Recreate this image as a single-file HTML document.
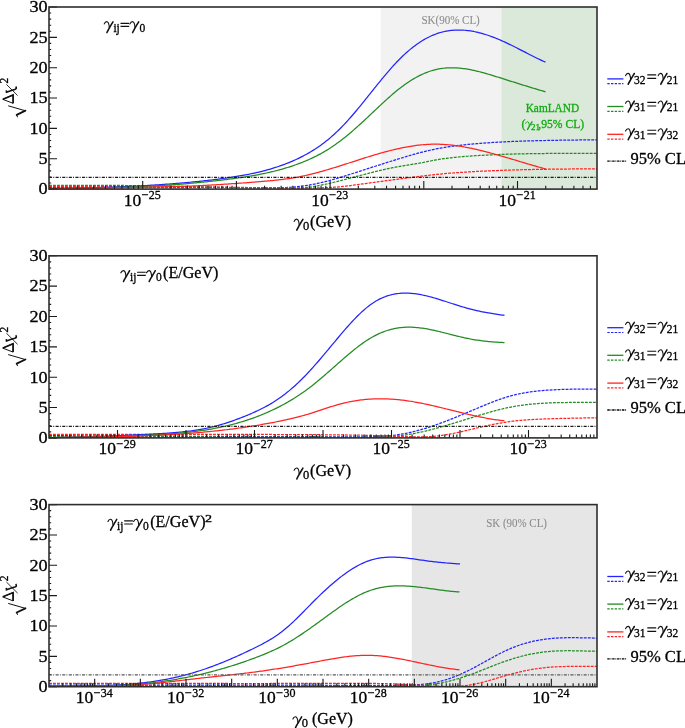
<!DOCTYPE html><html><head><meta charset="utf-8"><style>html,body{margin:0;padding:0;background:#fff;}svg{display:block;will-change:transform;}text{font-family:"Liberation Serif",serif;fill:#000;stroke:#000;stroke-width:0.3px;}.gr{fill:#8c8c8c;stroke:#8c8c8c;stroke-width:0.1px;}.gn{fill:#0fab0f;stroke:#0fab0f;}</style></head><body>
<svg width="685" height="728" viewBox="0 0 685 728">
<rect width="685" height="728" fill="#fff"/>
<rect x="380.6" y="7.0" width="121.4" height="182.1" fill="#f2f2f2"/>
<rect x="501.5" y="7.0" width="95.5" height="182.1" fill="#dbe9da"/>
<g fill="none" stroke-width="1.25">
<path d="M49.0,187.38L50.5,187.38L52.0,187.38L53.5,187.38L55.0,187.38L56.5,187.38L58.0,187.38L59.5,187.38L61.0,187.38L62.5,187.38L64.0,187.38L65.5,187.38L67.0,187.38L68.5,187.38L70.0,187.39L71.5,187.39L73.0,187.39L74.5,187.39L76.0,187.39L77.5,187.40L79.0,187.40L80.5,187.40L82.0,187.41L83.5,187.41L85.0,187.41L86.5,187.41L88.0,187.42L89.5,187.42L91.0,187.42L92.5,187.43L94.0,187.43L95.5,187.44L97.0,187.44L98.5,187.44L100.0,187.45L101.5,187.45L103.0,187.46L104.5,187.46L106.0,187.46L107.5,187.47L109.0,187.47L110.5,187.47L112.0,187.48L113.5,187.48L115.0,187.49L116.5,187.49L118.0,187.49L119.5,187.50L121.0,187.50L122.5,187.51L124.0,187.51L125.5,187.51L127.0,187.52L128.5,187.52L130.0,187.52L131.5,187.53L133.0,187.53L134.5,187.53L136.0,187.53L137.5,187.54L139.0,187.54L140.5,187.54L142.0,187.54L143.5,187.55L145.0,187.55L146.5,187.55L148.0,187.55L149.5,187.55L151.0,187.55L152.5,187.55L154.0,187.56L155.5,187.56L157.0,187.56L158.5,187.56L160.0,187.56L161.5,187.56L163.0,187.56L164.5,187.55L166.0,187.55L167.5,187.55L169.0,187.55L170.5,187.55L172.0,187.55L173.5,187.54L175.0,187.54L176.5,187.54L178.0,187.53L179.5,187.53L181.0,187.53L182.5,187.52L184.0,187.52L185.5,187.52L187.0,187.51L188.5,187.51L190.0,187.50L191.5,187.50L193.0,187.49L194.5,187.49L196.0,187.49L197.5,187.48L199.0,187.48L200.5,187.48L202.0,187.47L203.5,187.47L205.0,187.47L206.5,187.47L208.0,187.47L209.5,187.46L211.0,187.46L212.5,187.46L214.0,187.46L215.5,187.46L217.0,187.47L218.5,187.47L220.0,187.47L221.5,187.47L223.0,187.48L224.5,187.48L226.0,187.49L227.5,187.49L229.0,187.50L230.5,187.51L232.0,187.52L233.5,187.53L235.0,187.54L236.5,187.55L238.0,187.56L239.5,187.58L241.0,187.59L242.5,187.61L244.0,187.62L245.5,187.64L247.0,187.66L248.5,187.68L250.0,187.70L251.5,187.72L253.0,187.75L254.5,187.77L256.0,187.79L257.5,187.81L259.0,187.83L260.5,187.85L262.0,187.87L263.5,187.88L265.0,187.90L266.5,187.90L268.0,187.91L269.5,187.91L271.0,187.90L272.5,187.90L274.0,187.88L275.5,187.86L277.0,187.83L278.5,187.80L280.0,187.76L281.5,187.71L283.0,187.66L284.5,187.59L286.0,187.52L287.5,187.44L289.0,187.35L290.5,187.25L292.0,187.14L293.5,187.02L295.0,186.89L296.5,186.74L298.0,186.59L299.5,186.42L301.0,186.24L302.5,186.05L304.0,185.85L305.5,185.63L307.0,185.40L308.5,185.15L310.0,184.90L311.5,184.63L313.0,184.34L314.5,184.05L316.0,183.74L317.5,183.43L319.0,183.10L320.5,182.76L322.0,182.41L323.5,182.05L325.0,181.67L326.5,181.29L328.0,180.90L329.5,180.50L331.0,180.10L332.5,179.68L334.0,179.26L335.5,178.83L337.0,178.39L338.5,177.94L340.0,177.49L341.5,177.04L343.0,176.58L344.5,176.12L346.0,175.65L347.5,175.17L349.0,174.70L350.5,174.22L352.0,173.74L353.5,173.26L355.0,172.77L356.5,172.29L358.0,171.80L359.5,171.32L361.0,170.83L362.5,170.35L364.0,169.86L365.5,169.38L367.0,168.89L368.5,168.41L370.0,167.93L371.5,167.45L373.0,166.97L374.5,166.49L376.0,166.01L377.5,165.53L379.0,165.05L380.5,164.58L382.0,164.10L383.5,163.63L385.0,163.15L386.5,162.68L388.0,162.21L389.5,161.74L391.0,161.27L392.5,160.80L394.0,160.33L395.5,159.87L397.0,159.40L398.5,158.94L400.0,158.48L401.5,158.02L403.0,157.56L404.5,157.10L406.0,156.65L407.5,156.21L409.0,155.76L410.5,155.32L412.0,154.89L413.5,154.46L415.0,154.04L416.5,153.63L418.0,153.22L419.5,152.82L421.0,152.42L422.5,152.04L424.0,151.66L425.5,151.29L427.0,150.93L428.5,150.58L430.0,150.24L431.5,149.91L433.0,149.58L434.5,149.27L436.0,148.97L437.5,148.67L439.0,148.39L440.5,148.11L442.0,147.85L443.5,147.59L445.0,147.35L446.5,147.11L448.0,146.87L449.5,146.65L451.0,146.44L452.5,146.23L454.0,146.03L455.5,145.83L457.0,145.64L458.5,145.46L460.0,145.29L461.5,145.12L463.0,144.95L464.5,144.79L466.0,144.64L467.5,144.49L469.0,144.34L470.5,144.20L472.0,144.06L473.5,143.93L475.0,143.80L476.5,143.67L478.0,143.54L479.5,143.42L481.0,143.31L482.5,143.19L484.0,143.08L485.5,142.97L487.0,142.87L488.5,142.76L490.0,142.66L491.5,142.57L493.0,142.47L494.5,142.38L496.0,142.29L497.5,142.21L499.0,142.12L500.5,142.04L502.0,141.96L503.5,141.89L505.0,141.81L506.5,141.74L508.0,141.67L509.5,141.60L511.0,141.54L512.5,141.48L514.0,141.41L515.5,141.36L517.0,141.30L518.5,141.24L520.0,141.19L521.5,141.14L523.0,141.09L524.5,141.04L526.0,140.99L527.5,140.95L529.0,140.90L530.5,140.86L532.0,140.82L533.5,140.78L535.0,140.74L536.5,140.70L538.0,140.66L539.5,140.63L541.0,140.59L542.5,140.56L544.0,140.53L545.5,140.50L547.0,140.46L548.5,140.43L550.0,140.41L551.5,140.38L553.0,140.35L554.5,140.32L556.0,140.30L557.5,140.27L559.0,140.24L560.5,140.22L562.0,140.20L563.5,140.17L565.0,140.15L566.5,140.13L568.0,140.11L569.5,140.09L571.0,140.07L572.5,140.06L574.0,140.04L575.5,140.02L577.0,140.01L578.5,139.99L580.0,139.98L581.5,139.97L583.0,139.96L584.5,139.94L586.0,139.93L587.5,139.92L589.0,139.92L590.5,139.91L592.0,139.90L593.5,139.89L595.0,139.89L596.5,139.89L597.0,139.88" stroke="#2424ff" stroke-dasharray="2.9 1.1"/>
<path d="M49.0,185.38L50.5,185.37L52.0,185.37L53.5,185.36L55.0,185.35L56.5,185.35L58.0,185.34L59.5,185.34L61.0,185.33L62.5,185.33L64.0,185.33L65.5,185.32L67.0,185.32L68.5,185.32L70.0,185.31L71.5,185.31L73.0,185.31L74.5,185.31L76.0,185.31L77.5,185.31L79.0,185.31L80.5,185.31L82.0,185.31L83.5,185.31L85.0,185.31L86.5,185.31L88.0,185.31L89.5,185.31L91.0,185.31L92.5,185.32L94.0,185.32L95.5,185.32L97.0,185.33L98.5,185.33L100.0,185.34L101.5,185.34L103.0,185.35L104.5,185.36L106.0,185.36L107.5,185.37L109.0,185.38L110.5,185.39L112.0,185.40L113.5,185.41L115.0,185.42L116.5,185.43L118.0,185.44L119.5,185.45L121.0,185.46L122.5,185.47L124.0,185.49L125.5,185.50L127.0,185.51L128.5,185.53L130.0,185.54L131.5,185.56L133.0,185.57L134.5,185.59L136.0,185.61L137.5,185.63L139.0,185.64L140.5,185.66L142.0,185.68L143.5,185.70L145.0,185.72L146.5,185.75L148.0,185.77L149.5,185.79L151.0,185.81L152.5,185.84L154.0,185.86L155.5,185.89L157.0,185.91L158.5,185.94L160.0,185.97L161.5,186.00L163.0,186.02L164.5,186.05L166.0,186.08L167.5,186.11L169.0,186.15L170.5,186.18L172.0,186.21L173.5,186.24L175.0,186.28L176.5,186.31L178.0,186.35L179.5,186.39L181.0,186.42L182.5,186.46L184.0,186.50L185.5,186.53L187.0,186.57L188.5,186.61L190.0,186.65L191.5,186.69L193.0,186.73L194.5,186.77L196.0,186.81L197.5,186.85L199.0,186.89L200.5,186.92L202.0,186.96L203.5,187.00L205.0,187.04L206.5,187.08L208.0,187.12L209.5,187.16L211.0,187.19L212.5,187.23L214.0,187.27L215.5,187.30L217.0,187.34L218.5,187.37L220.0,187.41L221.5,187.44L223.0,187.48L224.5,187.51L226.0,187.54L227.5,187.57L229.0,187.60L230.5,187.63L232.0,187.65L233.5,187.68L235.0,187.70L236.5,187.73L238.0,187.75L239.5,187.77L241.0,187.79L242.5,187.81L244.0,187.83L245.5,187.84L247.0,187.86L248.5,187.87L250.0,187.88L251.5,187.89L253.0,187.90L254.5,187.91L256.0,187.91L257.5,187.92L259.0,187.92L260.5,187.93L262.0,187.93L263.5,187.93L265.0,187.94L266.5,187.94L268.0,187.94L269.5,187.94L271.0,187.95L272.5,187.95L274.0,187.95L275.5,187.96L277.0,187.96L278.5,187.97L280.0,187.98L281.5,187.98L283.0,187.99L284.5,188.00L286.0,188.02L287.5,188.03L289.0,188.04L290.5,188.06L292.0,188.06L293.5,188.06L295.0,188.05L296.5,188.03L298.0,188.00L299.5,187.96L301.0,187.89L302.5,187.81L304.0,187.71L305.5,187.58L307.0,187.43L308.5,187.26L310.0,187.07L311.5,186.86L313.0,186.63L314.5,186.38L316.0,186.13L317.5,185.85L319.0,185.57L320.5,185.27L322.0,184.96L323.5,184.65L325.0,184.33L326.5,184.00L328.0,183.66L329.5,183.32L331.0,182.97L332.5,182.62L334.0,182.26L335.5,181.90L337.0,181.53L338.5,181.15L340.0,180.78L341.5,180.40L343.0,180.01L344.5,179.63L346.0,179.24L347.5,178.84L349.0,178.45L350.5,178.05L352.0,177.66L353.5,177.26L355.0,176.86L356.5,176.46L358.0,176.06L359.5,175.67L361.0,175.27L362.5,174.87L364.0,174.48L365.5,174.09L367.0,173.70L368.5,173.31L370.0,172.92L371.5,172.54L373.0,172.16L374.5,171.79L376.0,171.42L377.5,171.05L379.0,170.69L380.5,170.33L382.0,169.98L383.5,169.64L385.0,169.30L386.5,168.97L388.0,168.65L389.5,168.33L391.0,168.02L392.5,167.72L394.0,167.42L395.5,167.14L397.0,166.86L398.5,166.60L400.0,166.34L401.5,166.09L403.0,165.85L404.5,165.61L406.0,165.37L407.5,165.13L409.0,164.90L410.5,164.66L412.0,164.42L413.5,164.17L415.0,163.92L416.5,163.66L418.0,163.39L419.5,163.11L421.0,162.83L422.5,162.53L424.0,162.24L425.5,161.94L427.0,161.64L428.5,161.34L430.0,161.05L431.5,160.76L433.0,160.47L434.5,160.20L436.0,159.93L437.5,159.67L439.0,159.43L440.5,159.19L442.0,158.96L443.5,158.74L445.0,158.53L446.5,158.33L448.0,158.14L449.5,157.96L451.0,157.78L452.5,157.61L454.0,157.45L455.5,157.29L457.0,157.14L458.5,157.00L460.0,156.86L461.5,156.73L463.0,156.60L464.5,156.48L466.0,156.36L467.5,156.25L469.0,156.14L470.5,156.03L472.0,155.93L473.5,155.83L475.0,155.73L476.5,155.63L478.0,155.54L479.5,155.45L481.0,155.36L482.5,155.28L484.0,155.20L485.5,155.12L487.0,155.04L488.5,154.97L490.0,154.89L491.5,154.82L493.0,154.76L494.5,154.69L496.0,154.63L497.5,154.57L499.0,154.51L500.5,154.45L502.0,154.39L503.5,154.34L505.0,154.29L506.5,154.24L508.0,154.19L509.5,154.15L511.0,154.11L512.5,154.06L514.0,154.02L515.5,153.98L517.0,153.95L518.5,153.91L520.0,153.88L521.5,153.85L523.0,153.82L524.5,153.79L526.0,153.76L527.5,153.73L529.0,153.71L530.5,153.68L532.0,153.66L533.5,153.64L535.0,153.62L536.5,153.60L538.0,153.58L539.5,153.56L541.0,153.55L542.5,153.53L544.0,153.52L545.5,153.50L547.0,153.49L548.5,153.48L550.0,153.47L551.5,153.46L553.0,153.45L554.5,153.44L556.0,153.43L557.5,153.42L559.0,153.41L560.5,153.40L562.0,153.40L563.5,153.39L565.0,153.38L566.5,153.38L568.0,153.37L569.5,153.37L571.0,153.36L572.5,153.36L574.0,153.35L575.5,153.35L577.0,153.34L578.5,153.34L580.0,153.33L581.5,153.33L583.0,153.32L584.5,153.32L586.0,153.31L587.5,153.30L589.0,153.30L590.5,153.29L592.0,153.28L593.5,153.28L595.0,153.27L596.5,153.26L597.0,153.26" stroke="#238b23" stroke-dasharray="2.9 1.1"/>
<path d="M49.0,186.48L50.5,186.48L52.0,186.48L53.5,186.48L55.0,186.48L56.5,186.48L58.0,186.49L59.5,186.49L61.0,186.49L62.5,186.50L64.0,186.50L65.5,186.50L67.0,186.51L68.5,186.51L70.0,186.52L71.5,186.52L73.0,186.53L74.5,186.53L76.0,186.54L77.5,186.54L79.0,186.55L80.5,186.56L82.0,186.56L83.5,186.57L85.0,186.58L86.5,186.59L88.0,186.59L89.5,186.60L91.0,186.61L92.5,186.62L94.0,186.63L95.5,186.63L97.0,186.64L98.5,186.65L100.0,186.66L101.5,186.67L103.0,186.68L104.5,186.69L106.0,186.69L107.5,186.70L109.0,186.71L110.5,186.72L112.0,186.73L113.5,186.74L115.0,186.75L116.5,186.76L118.0,186.77L119.5,186.78L121.0,186.79L122.5,186.80L124.0,186.81L125.5,186.82L127.0,186.83L128.5,186.84L130.0,186.85L131.5,186.86L133.0,186.87L134.5,186.88L136.0,186.89L137.5,186.89L139.0,186.90L140.5,186.91L142.0,186.92L143.5,186.93L145.0,186.94L146.5,186.95L148.0,186.96L149.5,186.97L151.0,186.98L152.5,186.98L154.0,186.99L155.5,187.00L157.0,187.01L158.5,187.02L160.0,187.02L161.5,187.03L163.0,187.04L164.5,187.05L166.0,187.05L167.5,187.06L169.0,187.07L170.5,187.07L172.0,187.08L173.5,187.08L175.0,187.09L176.5,187.09L178.0,187.10L179.5,187.10L181.0,187.11L182.5,187.11L184.0,187.12L185.5,187.12L187.0,187.13L188.5,187.13L190.0,187.14L191.5,187.14L193.0,187.14L194.5,187.15L196.0,187.15L197.5,187.16L199.0,187.16L200.5,187.17L202.0,187.17L203.5,187.18L205.0,187.18L206.5,187.19L208.0,187.20L209.5,187.20L211.0,187.21L212.5,187.22L214.0,187.22L215.5,187.23L217.0,187.24L218.5,187.25L220.0,187.25L221.5,187.26L223.0,187.27L224.5,187.28L226.0,187.29L227.5,187.31L229.0,187.32L230.5,187.33L232.0,187.34L233.5,187.36L235.0,187.37L236.5,187.39L238.0,187.40L239.5,187.42L241.0,187.44L242.5,187.45L244.0,187.47L245.5,187.49L247.0,187.51L248.5,187.53L250.0,187.56L251.5,187.58L253.0,187.60L254.5,187.63L256.0,187.65L257.5,187.68L259.0,187.70L260.5,187.73L262.0,187.75L263.5,187.78L265.0,187.81L266.5,187.83L268.0,187.86L269.5,187.88L271.0,187.91L272.5,187.93L274.0,187.95L275.5,187.98L277.0,188.00L278.5,188.02L280.0,188.04L281.5,188.06L283.0,188.07L284.5,188.09L286.0,188.11L287.5,188.12L289.0,188.13L290.5,188.14L292.0,188.15L293.5,188.15L295.0,188.16L296.5,188.16L298.0,188.16L299.5,188.16L301.0,188.15L302.5,188.15L304.0,188.14L305.5,188.12L307.0,188.11L308.5,188.09L310.0,188.07L311.5,188.04L313.0,188.02L314.5,187.99L316.0,187.95L317.5,187.92L319.0,187.87L320.5,187.83L322.0,187.78L323.5,187.73L325.0,187.67L326.5,187.61L328.0,187.55L329.5,187.47L331.0,187.40L332.5,187.31L334.0,187.22L335.5,187.12L337.0,187.01L338.5,186.89L340.0,186.76L341.5,186.62L343.0,186.47L344.5,186.31L346.0,186.14L347.5,185.96L349.0,185.77L350.5,185.58L352.0,185.38L353.5,185.18L355.0,184.97L356.5,184.76L358.0,184.55L359.5,184.34L361.0,184.13L362.5,183.92L364.0,183.72L365.5,183.51L367.0,183.31L368.5,183.10L370.0,182.90L371.5,182.70L373.0,182.50L374.5,182.29L376.0,182.10L377.5,181.90L379.0,181.70L380.5,181.50L382.0,181.30L383.5,181.10L385.0,180.91L386.5,180.71L388.0,180.51L389.5,180.31L391.0,180.12L392.5,179.92L394.0,179.72L395.5,179.52L397.0,179.33L398.5,179.13L400.0,178.93L401.5,178.73L403.0,178.53L404.5,178.33L406.0,178.13L407.5,177.93L409.0,177.73L410.5,177.54L412.0,177.34L413.5,177.14L415.0,176.95L416.5,176.76L418.0,176.57L419.5,176.38L421.0,176.19L422.5,176.01L424.0,175.82L425.5,175.64L427.0,175.47L428.5,175.29L430.0,175.12L431.5,174.96L433.0,174.79L434.5,174.63L436.0,174.48L437.5,174.33L439.0,174.18L440.5,174.03L442.0,173.89L443.5,173.76L445.0,173.62L446.5,173.49L448.0,173.37L449.5,173.24L451.0,173.12L452.5,173.00L454.0,172.89L455.5,172.78L457.0,172.67L458.5,172.56L460.0,172.46L461.5,172.36L463.0,172.26L464.5,172.17L466.0,172.07L467.5,171.98L469.0,171.89L470.5,171.80L472.0,171.72L473.5,171.63L475.0,171.55L476.5,171.47L478.0,171.39L479.5,171.31L481.0,171.24L482.5,171.17L484.0,171.09L485.5,171.02L487.0,170.95L488.5,170.89L490.0,170.82L491.5,170.76L493.0,170.69L494.5,170.63L496.0,170.57L497.5,170.51L499.0,170.46L500.5,170.40L502.0,170.35L503.5,170.29L505.0,170.24L506.5,170.19L508.0,170.14L509.5,170.09L511.0,170.05L512.5,170.00L514.0,169.96L515.5,169.91L517.0,169.87L518.5,169.83L520.0,169.79L521.5,169.75L523.0,169.72L524.5,169.68L526.0,169.65L527.5,169.61L529.0,169.58L530.5,169.55L532.0,169.52L533.5,169.49L535.0,169.46L536.5,169.43L538.0,169.40L539.5,169.37L541.0,169.35L542.5,169.32L544.0,169.30L545.5,169.28L547.0,169.25L548.5,169.23L550.0,169.21L551.5,169.19L553.0,169.17L554.5,169.15L556.0,169.13L557.5,169.12L559.0,169.10L560.5,169.08L562.0,169.07L563.5,169.05L565.0,169.04L566.5,169.02L568.0,169.01L569.5,169.00L571.0,168.98L572.5,168.97L574.0,168.96L575.5,168.95L577.0,168.94L578.5,168.92L580.0,168.91L581.5,168.90L583.0,168.89L584.5,168.88L586.0,168.87L587.5,168.87L589.0,168.86L590.5,168.85L592.0,168.84L593.5,168.83L595.0,168.82L596.5,168.81L597.0,168.81" stroke="#ff2424" stroke-dasharray="2.9 1.1"/>
<path d="M49.0,188.40L50.5,188.39L52.0,188.38L53.5,188.38L55.0,188.36L56.5,188.35L58.0,188.34L59.5,188.33L61.0,188.31L62.5,188.29L64.0,188.28L65.5,188.26L67.0,188.24L68.5,188.22L70.0,188.20L71.5,188.18L73.0,188.15L74.5,188.13L76.0,188.10L77.5,188.08L79.0,188.05L80.5,188.02L82.0,187.99L83.5,187.96L85.0,187.92L86.5,187.89L88.0,187.86L89.5,187.82L91.0,187.78L92.5,187.74L94.0,187.70L95.5,187.66L97.0,187.62L98.5,187.58L100.0,187.53L101.5,187.49L103.0,187.44L104.5,187.39L106.0,187.34L107.5,187.29L109.0,187.24L110.5,187.19L112.0,187.13L113.5,187.08L115.0,187.02L116.5,186.96L118.0,186.90L119.5,186.84L121.0,186.78L122.5,186.71L124.0,186.65L125.5,186.58L127.0,186.51L128.5,186.44L130.0,186.37L131.5,186.30L133.0,186.23L134.5,186.15L136.0,186.07L137.5,186.00L139.0,185.92L140.5,185.83L142.0,185.75L143.5,185.67L145.0,185.58L146.5,185.50L148.0,185.41L149.5,185.32L151.0,185.23L152.5,185.13L154.0,185.04L155.5,184.94L157.0,184.85L158.5,184.75L160.0,184.65L161.5,184.55L163.0,184.44L164.5,184.34L166.0,184.23L167.5,184.12L169.0,184.01L170.5,183.90L172.0,183.78L173.5,183.67L175.0,183.55L176.5,183.43L178.0,183.31L179.5,183.18L181.0,183.06L182.5,182.93L184.0,182.80L185.5,182.66L187.0,182.53L188.5,182.39L190.0,182.25L191.5,182.11L193.0,181.96L194.5,181.82L196.0,181.67L197.5,181.51L199.0,181.36L200.5,181.20L202.0,181.04L203.5,180.87L205.0,180.71L206.5,180.54L208.0,180.36L209.5,180.19L211.0,180.01L212.5,179.83L214.0,179.64L215.5,179.45L217.0,179.26L218.5,179.07L220.0,178.87L221.5,178.66L223.0,178.46L224.5,178.25L226.0,178.04L227.5,177.82L229.0,177.60L230.5,177.38L232.0,177.15L233.5,176.92L235.0,176.68L236.5,176.44L238.0,176.20L239.5,175.95L241.0,175.69L242.5,175.43L244.0,175.16L245.5,174.88L247.0,174.60L248.5,174.31L250.0,174.01L251.5,173.70L253.0,173.39L254.5,173.06L256.0,172.73L257.5,172.39L259.0,172.04L260.5,171.68L262.0,171.31L263.5,170.93L265.0,170.54L266.5,170.13L268.0,169.72L269.5,169.29L271.0,168.86L272.5,168.41L274.0,167.94L275.5,167.47L277.0,166.98L278.5,166.48L280.0,165.96L281.5,165.43L283.0,164.89L284.5,164.33L286.0,163.75L287.5,163.16L289.0,162.56L290.5,161.93L292.0,161.30L293.5,160.64L295.0,159.97L296.5,159.28L298.0,158.58L299.5,157.85L301.0,157.11L302.5,156.35L304.0,155.56L305.5,154.76L307.0,153.93L308.5,153.09L310.0,152.21L311.5,151.32L313.0,150.40L314.5,149.45L316.0,148.48L317.5,147.48L319.0,146.45L320.5,145.39L322.0,144.31L323.5,143.19L325.0,142.04L326.5,140.86L328.0,139.65L329.5,138.41L331.0,137.13L332.5,135.81L334.0,134.46L335.5,133.08L337.0,131.66L338.5,130.21L340.0,128.73L341.5,127.21L343.0,125.66L344.5,124.09L346.0,122.48L347.5,120.85L349.0,119.18L350.5,117.49L352.0,115.77L353.5,114.03L355.0,112.27L356.5,110.48L358.0,108.68L359.5,106.86L361.0,105.03L362.5,103.18L364.0,101.33L365.5,99.47L367.0,97.59L368.5,95.72L370.0,93.84L371.5,91.96L373.0,90.09L374.5,88.21L376.0,86.34L377.5,84.48L379.0,82.63L380.5,80.78L382.0,78.96L383.5,77.14L385.0,75.34L386.5,73.56L388.0,71.81L389.5,70.07L391.0,68.36L392.5,66.68L394.0,65.02L395.5,63.39L397.0,61.80L398.5,60.24L400.0,58.72L401.5,57.24L403.0,55.79L404.5,54.38L406.0,53.02L407.5,51.69L409.0,50.40L410.5,49.14L412.0,47.93L413.5,46.76L415.0,45.63L416.5,44.53L418.0,43.48L419.5,42.46L421.0,41.49L422.5,40.56L424.0,39.66L425.5,38.81L427.0,38.00L428.5,37.23L430.0,36.49L431.5,35.80L433.0,35.16L434.5,34.55L436.0,33.98L437.5,33.46L439.0,32.97L440.5,32.52L442.0,32.12L443.5,31.75L445.0,31.41L446.5,31.12L448.0,30.86L449.5,30.64L451.0,30.45L452.5,30.30L454.0,30.18L455.5,30.09L457.0,30.04L458.5,30.02L460.0,30.03L461.5,30.07L463.0,30.15L464.5,30.25L466.0,30.38L467.5,30.54L469.0,30.73L470.5,30.95L472.0,31.19L473.5,31.46L475.0,31.76L476.5,32.08L478.0,32.43L479.5,32.80L481.0,33.19L482.5,33.61L484.0,34.04L485.5,34.50L487.0,34.98L488.5,35.49L490.0,36.01L491.5,36.55L493.0,37.11L494.5,37.69L496.0,38.28L497.5,38.89L499.0,39.52L500.5,40.16L502.0,40.82L503.5,41.50L505.0,42.18L506.5,42.88L508.0,43.60L509.5,44.32L511.0,45.05L512.5,45.79L514.0,46.54L515.5,47.29L517.0,48.05L518.5,48.82L520.0,49.59L521.5,50.36L523.0,51.13L524.5,51.90L526.0,52.67L527.5,53.44L529.0,54.21L530.5,54.97L532.0,55.73L533.5,56.48L535.0,57.23L536.5,57.96L538.0,58.69L539.5,59.41L541.0,60.12L542.5,60.82L544.0,61.50L545.5,62.17" stroke="#2424ff"/>
<path d="M49.0,188.54L50.5,188.52L52.0,188.50L53.5,188.48L55.0,188.46L56.5,188.45L58.0,188.43L59.5,188.41L61.0,188.39L62.5,188.37L64.0,188.35L65.5,188.34L67.0,188.32L68.5,188.30L70.0,188.28L71.5,188.26L73.0,188.24L74.5,188.22L76.0,188.20L77.5,188.18L79.0,188.16L80.5,188.14L82.0,188.12L83.5,188.10L85.0,188.07L86.5,188.05L88.0,188.03L89.5,188.00L91.0,187.98L92.5,187.95L94.0,187.93L95.5,187.90L97.0,187.87L98.5,187.84L100.0,187.81L101.5,187.78L103.0,187.75L104.5,187.72L106.0,187.69L107.5,187.65L109.0,187.62L110.5,187.58L112.0,187.54L113.5,187.51L115.0,187.47L116.5,187.42L118.0,187.38L119.5,187.34L121.0,187.30L122.5,187.25L124.0,187.20L125.5,187.15L127.0,187.11L128.5,187.05L130.0,187.00L131.5,186.95L133.0,186.89L134.5,186.83L136.0,186.78L137.5,186.72L139.0,186.65L140.5,186.59L142.0,186.53L143.5,186.46L145.0,186.39L146.5,186.32L148.0,186.25L149.5,186.17L151.0,186.10L152.5,186.02L154.0,185.94L155.5,185.86L157.0,185.77L158.5,185.69L160.0,185.60L161.5,185.51L163.0,185.42L164.5,185.32L166.0,185.22L167.5,185.13L169.0,185.03L170.5,184.92L172.0,184.82L173.5,184.71L175.0,184.60L176.5,184.49L178.0,184.37L179.5,184.26L181.0,184.14L182.5,184.02L184.0,183.90L185.5,183.77L187.0,183.65L188.5,183.52L190.0,183.38L191.5,183.25L193.0,183.11L194.5,182.98L196.0,182.84L197.5,182.69L199.0,182.55L200.5,182.40L202.0,182.25L203.5,182.10L205.0,181.94L206.5,181.79L208.0,181.63L209.5,181.47L211.0,181.30L212.5,181.14L214.0,180.97L215.5,180.80L217.0,180.63L218.5,180.45L220.0,180.28L221.5,180.10L223.0,179.91L224.5,179.73L226.0,179.54L227.5,179.35L229.0,179.16L230.5,178.97L232.0,178.77L233.5,178.57L235.0,178.37L236.5,178.16L238.0,177.95L239.5,177.74L241.0,177.52L242.5,177.30L244.0,177.07L245.5,176.84L247.0,176.61L248.5,176.37L250.0,176.12L251.5,175.87L253.0,175.61L254.5,175.35L256.0,175.08L257.5,174.80L259.0,174.52L260.5,174.23L262.0,173.93L263.5,173.62L265.0,173.31L266.5,172.99L268.0,172.66L269.5,172.32L271.0,171.97L272.5,171.62L274.0,171.25L275.5,170.88L277.0,170.49L278.5,170.10L280.0,169.69L281.5,169.28L283.0,168.85L284.5,168.41L286.0,167.97L287.5,167.51L289.0,167.04L290.5,166.55L292.0,166.06L293.5,165.55L295.0,165.03L296.5,164.50L298.0,163.95L299.5,163.39L301.0,162.82L302.5,162.23L304.0,161.63L305.5,161.01L307.0,160.37L308.5,159.72L310.0,159.05L311.5,158.36L313.0,157.66L314.5,156.93L316.0,156.19L317.5,155.42L319.0,154.63L320.5,153.83L322.0,153.00L323.5,152.14L325.0,151.27L326.5,150.37L328.0,149.44L329.5,148.49L331.0,147.52L332.5,146.52L334.0,145.49L335.5,144.44L337.0,143.36L338.5,142.26L340.0,141.14L341.5,139.99L343.0,138.82L344.5,137.64L346.0,136.43L347.5,135.20L349.0,133.96L350.5,132.70L352.0,131.42L353.5,130.12L355.0,128.81L356.5,127.49L358.0,126.15L359.5,124.80L361.0,123.44L362.5,122.07L364.0,120.68L365.5,119.29L367.0,117.89L368.5,116.48L370.0,115.07L371.5,113.65L373.0,112.23L374.5,110.81L376.0,109.39L377.5,107.97L379.0,106.56L380.5,105.16L382.0,103.76L383.5,102.37L385.0,100.99L386.5,99.62L388.0,98.27L389.5,96.93L391.0,95.62L392.5,94.32L394.0,93.04L395.5,91.78L397.0,90.55L398.5,89.34L400.0,88.16L401.5,87.01L403.0,85.89L404.5,84.80L406.0,83.74L407.5,82.71L409.0,81.71L410.5,80.75L412.0,79.81L413.5,78.91L415.0,78.04L416.5,77.20L418.0,76.40L419.5,75.63L421.0,74.90L422.5,74.20L424.0,73.53L425.5,72.90L427.0,72.31L428.5,71.76L430.0,71.24L431.5,70.76L433.0,70.31L434.5,69.91L436.0,69.54L437.5,69.21L439.0,68.92L440.5,68.66L442.0,68.44L443.5,68.25L445.0,68.10L446.5,67.98L448.0,67.89L449.5,67.83L451.0,67.80L452.5,67.80L454.0,67.82L455.5,67.88L457.0,67.96L458.5,68.06L460.0,68.19L461.5,68.35L463.0,68.53L464.5,68.73L466.0,68.95L467.5,69.19L469.0,69.45L470.5,69.73L472.0,70.03L473.5,70.34L475.0,70.67L476.5,71.02L478.0,71.38L479.5,71.75L481.0,72.14L482.5,72.54L484.0,72.95L485.5,73.37L487.0,73.80L488.5,74.24L490.0,74.68L491.5,75.14L493.0,75.60L494.5,76.06L496.0,76.53L497.5,77.00L499.0,77.47L500.5,77.95L502.0,78.43L503.5,78.90L505.0,79.38L506.5,79.85L508.0,80.33L509.5,80.80L511.0,81.28L512.5,81.75L514.0,82.22L515.5,82.70L517.0,83.17L518.5,83.64L520.0,84.10L521.5,84.57L523.0,85.04L524.5,85.50L526.0,85.96L527.5,86.42L529.0,86.88L530.5,87.34L532.0,87.79L533.5,88.24L535.0,88.70L536.5,89.14L538.0,89.59L539.5,90.03L541.0,90.48L542.5,90.91L544.0,91.35L545.5,91.78" stroke="#238b23"/>
<path d="M49.0,188.75L50.5,188.75L52.0,188.74L53.5,188.74L55.0,188.74L56.5,188.73L58.0,188.73L59.5,188.72L61.0,188.71L62.5,188.70L64.0,188.69L65.5,188.68L67.0,188.67L68.5,188.66L70.0,188.64L71.5,188.63L73.0,188.61L74.5,188.60L76.0,188.58L77.5,188.56L79.0,188.54L80.5,188.53L82.0,188.51L83.5,188.49L85.0,188.46L86.5,188.44L88.0,188.42L89.5,188.40L91.0,188.37L92.5,188.35L94.0,188.32L95.5,188.30L97.0,188.27L98.5,188.25L100.0,188.22L101.5,188.19L103.0,188.16L104.5,188.13L106.0,188.10L107.5,188.08L109.0,188.04L110.5,188.01L112.0,187.98L113.5,187.95L115.0,187.92L116.5,187.89L118.0,187.86L119.5,187.82L121.0,187.79L122.5,187.76L124.0,187.72L125.5,187.69L127.0,187.66L128.5,187.62L130.0,187.59L131.5,187.55L133.0,187.52L134.5,187.48L136.0,187.45L137.5,187.41L139.0,187.38L140.5,187.34L142.0,187.31L143.5,187.27L145.0,187.24L146.5,187.20L148.0,187.17L149.5,187.13L151.0,187.09L152.5,187.06L154.0,187.02L155.5,186.99L157.0,186.95L158.5,186.92L160.0,186.88L161.5,186.85L163.0,186.81L164.5,186.78L166.0,186.74L167.5,186.71L169.0,186.67L170.5,186.64L172.0,186.60L173.5,186.56L175.0,186.53L176.5,186.49L178.0,186.45L179.5,186.40L181.0,186.36L182.5,186.32L184.0,186.27L185.5,186.22L187.0,186.17L188.5,186.12L190.0,186.07L191.5,186.01L193.0,185.95L194.5,185.89L196.0,185.83L197.5,185.76L199.0,185.70L200.5,185.63L202.0,185.55L203.5,185.48L205.0,185.40L206.5,185.32L208.0,185.24L209.5,185.15L211.0,185.07L212.5,184.98L214.0,184.89L215.5,184.80L217.0,184.71L218.5,184.62L220.0,184.52L221.5,184.43L223.0,184.33L224.5,184.23L226.0,184.14L227.5,184.04L229.0,183.94L230.5,183.84L232.0,183.73L233.5,183.63L235.0,183.53L236.5,183.43L238.0,183.32L239.5,183.22L241.0,183.11L242.5,183.00L244.0,182.90L245.5,182.79L247.0,182.68L248.5,182.56L250.0,182.45L251.5,182.34L253.0,182.22L254.5,182.10L256.0,181.98L257.5,181.86L259.0,181.74L260.5,181.62L262.0,181.49L263.5,181.36L265.0,181.23L266.5,181.10L268.0,180.97L269.5,180.83L271.0,180.69L272.5,180.54L274.0,180.39L275.5,180.24L277.0,180.08L278.5,179.91L280.0,179.74L281.5,179.56L283.0,179.37L284.5,179.18L286.0,178.98L287.5,178.77L289.0,178.56L290.5,178.33L292.0,178.09L293.5,177.85L295.0,177.59L296.5,177.33L298.0,177.05L299.5,176.76L301.0,176.46L302.5,176.15L304.0,175.83L305.5,175.50L307.0,175.16L308.5,174.81L310.0,174.45L311.5,174.09L313.0,173.71L314.5,173.33L316.0,172.94L317.5,172.54L319.0,172.13L320.5,171.72L322.0,171.30L323.5,170.87L325.0,170.44L326.5,170.01L328.0,169.56L329.5,169.12L331.0,168.66L332.5,168.21L334.0,167.75L335.5,167.28L337.0,166.82L338.5,166.35L340.0,165.87L341.5,165.40L343.0,164.92L344.5,164.44L346.0,163.96L347.5,163.48L349.0,162.99L350.5,162.51L352.0,162.03L353.5,161.54L355.0,161.06L356.5,160.57L358.0,160.09L359.5,159.61L361.0,159.13L362.5,158.66L364.0,158.18L365.5,157.71L367.0,157.24L368.5,156.77L370.0,156.31L371.5,155.85L373.0,155.40L374.5,154.95L376.0,154.50L377.5,154.06L379.0,153.62L380.5,153.19L382.0,152.77L383.5,152.35L385.0,151.94L386.5,151.54L388.0,151.14L389.5,150.75L391.0,150.37L392.5,150.00L394.0,149.64L395.5,149.28L397.0,148.93L398.5,148.60L400.0,148.27L401.5,147.95L403.0,147.65L404.5,147.35L406.0,147.07L407.5,146.79L409.0,146.53L410.5,146.28L412.0,146.04L413.5,145.82L415.0,145.61L416.5,145.41L418.0,145.22L419.5,145.05L421.0,144.89L422.5,144.75L424.0,144.62L425.5,144.51L427.0,144.41L428.5,144.33L430.0,144.26L431.5,144.21L433.0,144.18L434.5,144.16L436.0,144.17L437.5,144.18L439.0,144.22L440.5,144.27L442.0,144.33L443.5,144.42L445.0,144.51L446.5,144.62L448.0,144.75L449.5,144.89L451.0,145.05L452.5,145.21L454.0,145.39L455.5,145.59L457.0,145.79L458.5,146.01L460.0,146.24L461.5,146.49L463.0,146.74L464.5,147.00L466.0,147.28L467.5,147.56L469.0,147.86L470.5,148.16L472.0,148.48L473.5,148.80L475.0,149.13L476.5,149.47L478.0,149.82L479.5,150.18L481.0,150.54L482.5,150.91L484.0,151.29L485.5,151.67L487.0,152.06L488.5,152.46L490.0,152.86L491.5,153.27L493.0,153.68L494.5,154.09L496.0,154.51L497.5,154.94L499.0,155.37L500.5,155.80L502.0,156.23L503.5,156.67L505.0,157.10L506.5,157.55L508.0,157.99L509.5,158.43L511.0,158.88L512.5,159.32L514.0,159.77L515.5,160.22L517.0,160.66L518.5,161.11L520.0,161.56L521.5,162.01L523.0,162.45L524.5,162.90L526.0,163.34L527.5,163.79L529.0,164.23L530.5,164.66L532.0,165.10L533.5,165.54L535.0,165.97L536.5,166.39L538.0,166.82L539.5,167.24L541.0,167.66L542.5,168.07L544.0,168.48L545.5,168.89L546.0,169.02" stroke="#ff2424"/>
</g>
<path d="M49.0,189.10h8.0 M49.0,183.03h2.2 M49.0,176.96h2.2 M49.0,170.89h2.2 M49.0,164.82h2.2 M49.0,158.75h8.0 M49.0,152.68h2.2 M49.0,146.61h2.2 M49.0,140.54h2.2 M49.0,134.47h2.2 M49.0,128.40h8.0 M49.0,122.33h2.2 M49.0,116.26h2.2 M49.0,110.19h2.2 M49.0,104.12h2.2 M49.0,98.05h8.0 M49.0,91.98h2.2 M49.0,85.91h2.2 M49.0,79.84h2.2 M49.0,73.77h2.2 M49.0,67.70h8.0 M49.0,61.63h2.2 M49.0,55.56h2.2 M49.0,49.49h2.2 M49.0,43.42h2.2 M49.0,37.35h8.0 M49.0,31.28h2.2 M49.0,25.21h2.2 M49.0,19.14h2.2 M49.0,13.07h2.2 M49.0,7.00h8.0 M77.21,189.1v-3.4 M93.71,189.1v-3.4 M105.41,189.1v-3.4 M114.49,189.1v-3.4 M121.91,189.1v-3.4 M128.19,189.1v-3.4 M133.62,189.1v-3.4 M138.41,189.1v-3.4 M142.70,189.1v-8.0 M170.91,189.1v-3.4 M187.41,189.1v-3.4 M199.11,189.1v-3.4 M208.19,189.1v-3.4 M215.61,189.1v-3.4 M221.89,189.1v-3.4 M227.32,189.1v-3.4 M232.11,189.1v-3.4 M236.40,189.1v-8.0 M264.61,189.1v-3.4 M281.11,189.1v-3.4 M292.81,189.1v-3.4 M301.89,189.1v-3.4 M309.31,189.1v-3.4 M315.59,189.1v-3.4 M321.02,189.1v-3.4 M325.81,189.1v-3.4 M330.10,189.1v-8.0 M358.31,189.1v-3.4 M374.81,189.1v-3.4 M386.51,189.1v-3.4 M395.59,189.1v-3.4 M403.01,189.1v-3.4 M409.29,189.1v-3.4 M414.72,189.1v-3.4 M419.51,189.1v-3.4 M423.80,189.1v-8.0 M452.01,189.1v-3.4 M468.51,189.1v-3.4 M480.21,189.1v-3.4 M489.29,189.1v-3.4 M496.71,189.1v-3.4 M502.99,189.1v-3.4 M508.42,189.1v-3.4 M513.21,189.1v-3.4 M517.50,189.1v-8.0 M545.71,189.1v-3.4 M562.21,189.1v-3.4 M573.91,189.1v-3.4 M582.99,189.1v-3.4 M590.41,189.1v-3.4" stroke="#1a1a1a" stroke-width="1.1" fill="none"/>
<path d="M49.0,177.3H597.0" stroke="#1a1a1a" stroke-width="1.2" stroke-dasharray="3.1 1.2 0.9 1.4"/>
<rect x="49.0" y="7.00" width="548.0" height="182.10" fill="none" stroke="#2e2e2e" stroke-width="1.6"/>
<text x="47.6" y="194.4" font-size="17.5" text-anchor="end" textLength="9.1" lengthAdjust="spacingAndGlyphs">0</text>
<text x="47.6" y="164.1" font-size="17.5" text-anchor="end" textLength="9.1" lengthAdjust="spacingAndGlyphs">5</text>
<text x="47.6" y="133.7" font-size="17.5" text-anchor="end" textLength="18.2" lengthAdjust="spacingAndGlyphs">10</text>
<text x="47.6" y="103.3" font-size="17.5" text-anchor="end" textLength="18.2" lengthAdjust="spacingAndGlyphs">15</text>
<text x="47.6" y="73.0" font-size="17.5" text-anchor="end" textLength="18.2" lengthAdjust="spacingAndGlyphs">20</text>
<text x="47.6" y="42.7" font-size="17.5" text-anchor="end" textLength="18.2" lengthAdjust="spacingAndGlyphs">25</text>
<text x="47.6" y="12.3" font-size="17.5" text-anchor="end" textLength="18.2" lengthAdjust="spacingAndGlyphs">30</text>
<text x="142.3" y="205.5" font-size="17.5" text-anchor="middle">10<tspan font-size="12.5" dy="-6.1">−</tspan><tspan font-size="12" dx="0.5">25</tspan></text>
<text x="329.7" y="205.5" font-size="17.5" text-anchor="middle">10<tspan font-size="12.5" dy="-6.1">−</tspan><tspan font-size="12" dx="0.5">23</tspan></text>
<text x="517.1" y="205.5" font-size="17.5" text-anchor="middle">10<tspan font-size="12.5" dy="-6.1">−</tspan><tspan font-size="12" dx="0.5">21</tspan></text>
<g transform="translate(293.90,226.80) scale(1.000)" fill="none" stroke="#111" stroke-linecap="round"><path d="M0.25,-5.4 C0.9,-7.0 2.0,-7.7 3.0,-7.6 C4.5,-7.4 5.1,-5.4 5.3,-1.9" stroke-width="1.15"/><path d="M9.0,-7.5 C7.4,-4.8 5.6,-1.8 4.6,0.0 C3.8,1.4 3.2,2.5 2.9,3.3" stroke-width="1.55"/></g>
<text x="303.1" y="229.7" font-size="12.5">0</text>
<text x="310.1" y="226.8" font-size="16" textLength="40.9" lengthAdjust="spacingAndGlyphs">(GeV)</text>
<path d="M8.2,105.8 L24.8,110.6" stroke="#111" stroke-width="1.0" fill="none"/><path d="M25.4,110.7 L16.7,114.9" stroke="#111" stroke-width="1.9" fill="none" stroke-linecap="round"/><path d="M16.7,114.9 L17.6,117.3" stroke="#111" stroke-width="1.0" fill="none"/><path d="M13.1,94.9 L2.7,99.3 L13.1,103.3 Z" stroke="#111" stroke-width="1.0" fill="none" stroke-linejoin="miter"/><path d="M2.9,99.2 L13.1,95.0 L13.1,103.3" stroke="#111" stroke-width="1.6" fill="none"/><path d="M6.4,84.4 L17.6,95.5" stroke="#111" stroke-width="0.9" fill="none"/><path d="M6.3,90.3 L6.5,92.2 C9.2,91.2 12.2,90.1 14.8,89.4 C16.4,88.9 16.9,88.0 15.7,86.4" stroke="#111" stroke-width="1.6" fill="none"/><g transform="translate(13.3,117.0) rotate(-90)"><text x="33.4" y="-5.3" font-size="11.5">2</text></g>
<path d="M607.3,78.9H623.4" stroke="#2424ff" stroke-width="1.3"/>
<path d="M607.3,83.7H623.4" stroke="#2424ff" stroke-width="1.2" stroke-dasharray="2.4 1.3"/>
<g transform="translate(625.30,81.00) scale(1.000)" fill="none" stroke="#111" stroke-linecap="round"><path d="M0.25,-5.4 C0.9,-7.0 2.0,-7.7 3.0,-7.6 C4.5,-7.4 5.1,-5.4 5.3,-1.9" stroke-width="1.15"/><path d="M9.0,-7.5 C7.4,-4.8 5.6,-1.8 4.6,0.0 C3.8,1.4 3.2,2.5 2.9,3.3" stroke-width="1.55"/></g>
<text x="634.1" y="83.8" font-size="11.5">32</text>
<path d="M647.3,74.80H656.2M647.3,78.40H656.2" stroke="#111" stroke-width="1.15"/>
<g transform="translate(657.90,81.00) scale(1.000)" fill="none" stroke="#111" stroke-linecap="round"><path d="M0.25,-5.4 C0.9,-7.0 2.0,-7.7 3.0,-7.6 C4.5,-7.4 5.1,-5.4 5.3,-1.9" stroke-width="1.15"/><path d="M9.0,-7.5 C7.4,-4.8 5.6,-1.8 4.6,0.0 C3.8,1.4 3.2,2.5 2.9,3.3" stroke-width="1.55"/></g>
<text x="666.8" y="83.8" font-size="11.5">21</text>
<path d="M607.3,106.5H623.4" stroke="#238b23" stroke-width="1.3"/>
<path d="M607.3,111.3H623.4" stroke="#238b23" stroke-width="1.2" stroke-dasharray="2.4 1.3"/>
<g transform="translate(625.30,108.60) scale(1.000)" fill="none" stroke="#111" stroke-linecap="round"><path d="M0.25,-5.4 C0.9,-7.0 2.0,-7.7 3.0,-7.6 C4.5,-7.4 5.1,-5.4 5.3,-1.9" stroke-width="1.15"/><path d="M9.0,-7.5 C7.4,-4.8 5.6,-1.8 4.6,0.0 C3.8,1.4 3.2,2.5 2.9,3.3" stroke-width="1.55"/></g>
<text x="634.1" y="111.4" font-size="11.5">31</text>
<path d="M647.3,102.40H656.2M647.3,106.00H656.2" stroke="#111" stroke-width="1.15"/>
<g transform="translate(657.90,108.60) scale(1.000)" fill="none" stroke="#111" stroke-linecap="round"><path d="M0.25,-5.4 C0.9,-7.0 2.0,-7.7 3.0,-7.6 C4.5,-7.4 5.1,-5.4 5.3,-1.9" stroke-width="1.15"/><path d="M9.0,-7.5 C7.4,-4.8 5.6,-1.8 4.6,0.0 C3.8,1.4 3.2,2.5 2.9,3.3" stroke-width="1.55"/></g>
<text x="666.8" y="111.4" font-size="11.5">21</text>
<path d="M607.3,134.3H623.4" stroke="#ff2424" stroke-width="1.3"/>
<path d="M607.3,139.1H623.4" stroke="#ff2424" stroke-width="1.2" stroke-dasharray="2.4 1.3"/>
<g transform="translate(625.30,136.40) scale(1.000)" fill="none" stroke="#111" stroke-linecap="round"><path d="M0.25,-5.4 C0.9,-7.0 2.0,-7.7 3.0,-7.6 C4.5,-7.4 5.1,-5.4 5.3,-1.9" stroke-width="1.15"/><path d="M9.0,-7.5 C7.4,-4.8 5.6,-1.8 4.6,0.0 C3.8,1.4 3.2,2.5 2.9,3.3" stroke-width="1.55"/></g>
<text x="634.1" y="139.2" font-size="11.5">31</text>
<path d="M647.3,130.20H656.2M647.3,133.80H656.2" stroke="#111" stroke-width="1.15"/>
<g transform="translate(657.90,136.40) scale(1.000)" fill="none" stroke="#111" stroke-linecap="round"><path d="M0.25,-5.4 C0.9,-7.0 2.0,-7.7 3.0,-7.6 C4.5,-7.4 5.1,-5.4 5.3,-1.9" stroke-width="1.15"/><path d="M9.0,-7.5 C7.4,-4.8 5.6,-1.8 4.6,0.0 C3.8,1.4 3.2,2.5 2.9,3.3" stroke-width="1.55"/></g>
<text x="666.8" y="139.2" font-size="11.5">32</text>
<path d="M607.3,161.2H626.7" stroke="#000" stroke-width="1.3" stroke-dasharray="2.4 0.8 0.9 0.8"/>
<text x="630.5" y="164.2" font-size="16.5">95% CL</text>
<g fill="none" stroke-width="1.25">
<path d="M49.0,435.60L50.5,435.61L52.0,435.62L53.5,435.63L55.0,435.64L56.5,435.64L58.0,435.65L59.5,435.66L61.0,435.67L62.5,435.68L64.0,435.69L65.5,435.70L67.0,435.71L68.5,435.71L70.0,435.72L71.5,435.73L73.0,435.74L74.5,435.75L76.0,435.76L77.5,435.76L79.0,435.77L80.5,435.78L82.0,435.79L83.5,435.80L85.0,435.80L86.5,435.81L88.0,435.82L89.5,435.83L91.0,435.84L92.5,435.84L94.0,435.85L95.5,435.86L97.0,435.87L98.5,435.87L100.0,435.88L101.5,435.89L103.0,435.90L104.5,435.90L106.0,435.91L107.5,435.92L109.0,435.92L110.5,435.93L112.0,435.94L113.5,435.95L115.0,435.95L116.5,435.96L118.0,435.97L119.5,435.97L121.0,435.98L122.5,435.99L124.0,435.99L125.5,436.00L127.0,436.01L128.5,436.01L130.0,436.02L131.5,436.02L133.0,436.03L134.5,436.04L136.0,436.04L137.5,436.05L139.0,436.06L140.5,436.06L142.0,436.07L143.5,436.08L145.0,436.08L146.5,436.09L148.0,436.09L149.5,436.10L151.0,436.11L152.5,436.11L154.0,436.12L155.5,436.12L157.0,436.13L158.5,436.14L160.0,436.14L161.5,436.15L163.0,436.15L164.5,436.16L166.0,436.16L167.5,436.17L169.0,436.18L170.5,436.18L172.0,436.19L173.5,436.19L175.0,436.20L176.5,436.20L178.0,436.21L179.5,436.22L181.0,436.22L182.5,436.23L184.0,436.23L185.5,436.24L187.0,436.24L188.5,436.25L190.0,436.25L191.5,436.26L193.0,436.27L194.5,436.27L196.0,436.28L197.5,436.28L199.0,436.29L200.5,436.29L202.0,436.30L203.5,436.30L205.0,436.31L206.5,436.31L208.0,436.32L209.5,436.33L211.0,436.33L212.5,436.34L214.0,436.34L215.5,436.35L217.0,436.35L218.5,436.36L220.0,436.36L221.5,436.37L223.0,436.37L224.5,436.38L226.0,436.39L227.5,436.39L229.0,436.40L230.5,436.40L232.0,436.41L233.5,436.41L235.0,436.42L236.5,436.42L238.0,436.43L239.5,436.43L241.0,436.44L242.5,436.45L244.0,436.45L245.5,436.46L247.0,436.46L248.5,436.47L250.0,436.47L251.5,436.48L253.0,436.48L254.5,436.49L256.0,436.50L257.5,436.50L259.0,436.51L260.5,436.51L262.0,436.52L263.5,436.52L265.0,436.53L266.5,436.54L268.0,436.54L269.5,436.55L271.0,436.55L272.5,436.56L274.0,436.57L275.5,436.57L277.0,436.58L278.5,436.58L280.0,436.59L281.5,436.60L283.0,436.60L284.5,436.61L286.0,436.61L287.5,436.62L289.0,436.63L290.5,436.63L292.0,436.64L293.5,436.65L295.0,436.65L296.5,436.66L298.0,436.67L299.5,436.67L301.0,436.68L302.5,436.69L304.0,436.69L305.5,436.70L307.0,436.71L308.5,436.71L310.0,436.72L311.5,436.73L313.0,436.73L314.5,436.74L316.0,436.75L317.5,436.75L319.0,436.76L320.5,436.77L322.0,436.77L323.5,436.78L325.0,436.79L326.5,436.80L328.0,436.80L329.5,436.81L331.0,436.82L332.5,436.82L334.0,436.83L335.5,436.84L337.0,436.84L338.5,436.85L340.0,436.85L341.5,436.86L343.0,436.86L344.5,436.86L346.0,436.86L347.5,436.87L349.0,436.87L350.5,436.87L352.0,436.86L353.5,436.86L355.0,436.86L356.5,436.85L358.0,436.85L359.5,436.84L361.0,436.83L362.5,436.82L364.0,436.81L365.5,436.80L367.0,436.78L368.5,436.76L370.0,436.73L371.5,436.70L373.0,436.67L374.5,436.63L376.0,436.58L377.5,436.52L379.0,436.46L380.5,436.38L382.0,436.30L383.5,436.21L385.0,436.11L386.5,436.00L388.0,435.87L389.5,435.74L391.0,435.59L392.5,435.43L394.0,435.25L395.5,435.06L397.0,434.86L398.5,434.64L400.0,434.40L401.5,434.15L403.0,433.89L404.5,433.61L406.0,433.31L407.5,433.00L409.0,432.68L410.5,432.34L412.0,431.99L413.5,431.63L415.0,431.25L416.5,430.86L418.0,430.46L419.5,430.05L421.0,429.62L422.5,429.19L424.0,428.74L425.5,428.28L427.0,427.82L428.5,427.34L430.0,426.85L431.5,426.36L433.0,425.85L434.5,425.34L436.0,424.81L437.5,424.28L439.0,423.74L440.5,423.20L442.0,422.64L443.5,422.08L445.0,421.52L446.5,420.94L448.0,420.36L449.5,419.78L451.0,419.18L452.5,418.59L454.0,417.99L455.5,417.38L457.0,416.77L458.5,416.16L460.0,415.54L461.5,414.92L463.0,414.29L464.5,413.66L466.0,413.03L467.5,412.40L469.0,411.77L470.5,411.13L472.0,410.50L473.5,409.86L475.0,409.22L476.5,408.59L478.0,407.95L479.5,407.31L481.0,406.68L482.5,406.06L484.0,405.43L485.5,404.81L487.0,404.20L488.5,403.59L490.0,402.99L491.5,402.40L493.0,401.82L494.5,401.25L496.0,400.69L497.5,400.14L499.0,399.60L500.5,399.07L502.0,398.56L503.5,398.06L505.0,397.58L506.5,397.11L508.0,396.66L509.5,396.23L511.0,395.81L512.5,395.42L514.0,395.04L515.5,394.67L517.0,394.33L518.5,394.00L520.0,393.69L521.5,393.39L523.0,393.10L524.5,392.83L526.0,392.58L527.5,392.34L529.0,392.11L530.5,391.89L532.0,391.69L533.5,391.50L535.0,391.31L536.5,391.14L538.0,390.98L539.5,390.83L541.0,390.69L542.5,390.56L544.0,390.43L545.5,390.31L547.0,390.20L548.5,390.10L550.0,390.01L551.5,389.92L553.0,389.83L554.5,389.76L556.0,389.68L557.5,389.62L559.0,389.56L560.5,389.50L562.0,389.45L563.5,389.40L565.0,389.36L566.5,389.32L568.0,389.29L569.5,389.26L571.0,389.23L572.5,389.21L574.0,389.18L575.5,389.16L577.0,389.15L578.5,389.13L580.0,389.12L581.5,389.11L583.0,389.10L584.5,389.09L586.0,389.08L587.5,389.08L589.0,389.07L590.5,389.06L592.0,389.06L593.5,389.05L595.0,389.04L596.5,389.03L597.0,389.03" stroke="#2424ff" stroke-dasharray="2.9 1.1"/>
<path d="M49.0,436.59L50.5,436.60L52.0,436.61L53.5,436.62L55.0,436.62L56.5,436.63L58.0,436.64L59.5,436.64L61.0,436.65L62.5,436.66L64.0,436.67L65.5,436.67L67.0,436.68L68.5,436.68L70.0,436.69L71.5,436.70L73.0,436.70L74.5,436.71L76.0,436.71L77.5,436.72L79.0,436.73L80.5,436.73L82.0,436.74L83.5,436.74L85.0,436.75L86.5,436.75L88.0,436.76L89.5,436.76L91.0,436.77L92.5,436.77L94.0,436.78L95.5,436.78L97.0,436.79L98.5,436.79L100.0,436.80L101.5,436.80L103.0,436.80L104.5,436.81L106.0,436.81L107.5,436.82L109.0,436.82L110.5,436.83L112.0,436.83L113.5,436.83L115.0,436.84L116.5,436.84L118.0,436.84L119.5,436.85L121.0,436.85L122.5,436.85L124.0,436.86L125.5,436.86L127.0,436.86L128.5,436.87L130.0,436.87L131.5,436.87L133.0,436.88L134.5,436.88L136.0,436.88L137.5,436.89L139.0,436.89L140.5,436.89L142.0,436.89L143.5,436.90L145.0,436.90L146.5,436.90L148.0,436.90L149.5,436.91L151.0,436.91L152.5,436.91L154.0,436.91L155.5,436.92L157.0,436.92L158.5,436.92L160.0,436.92L161.5,436.92L163.0,436.93L164.5,436.93L166.0,436.93L167.5,436.93L169.0,436.94L170.5,436.94L172.0,436.94L173.5,436.94L175.0,436.94L176.5,436.94L178.0,436.95L179.5,436.95L181.0,436.95L182.5,436.95L184.0,436.95L185.5,436.96L187.0,436.96L188.5,436.96L190.0,436.96L191.5,436.96L193.0,436.97L194.5,436.97L196.0,436.97L197.5,436.97L199.0,436.97L200.5,436.97L202.0,436.98L203.5,436.98L205.0,436.98L206.5,436.98L208.0,436.98L209.5,436.98L211.0,436.99L212.5,436.99L214.0,436.99L215.5,436.99L217.0,436.99L218.5,437.00L220.0,437.00L221.5,437.00L223.0,437.00L224.5,437.00L226.0,437.00L227.5,437.01L229.0,437.01L230.5,437.01L232.0,437.01L233.5,437.01L235.0,437.02L236.5,437.02L238.0,437.02L239.5,437.02L241.0,437.02L242.5,437.03L244.0,437.03L245.5,437.03L247.0,437.03L248.5,437.04L250.0,437.04L251.5,437.04L253.0,437.04L254.5,437.05L256.0,437.05L257.5,437.05L259.0,437.05L260.5,437.06L262.0,437.06L263.5,437.06L265.0,437.06L266.5,437.07L268.0,437.07L269.5,437.07L271.0,437.08L272.5,437.08L274.0,437.08L275.5,437.08L277.0,437.09L278.5,437.09L280.0,437.09L281.5,437.10L283.0,437.10L284.5,437.10L286.0,437.11L287.5,437.11L289.0,437.12L290.5,437.12L292.0,437.12L293.5,437.13L295.0,437.13L296.5,437.13L298.0,437.14L299.5,437.14L301.0,437.15L302.5,437.15L304.0,437.16L305.5,437.16L307.0,437.16L308.5,437.17L310.0,437.17L311.5,437.18L313.0,437.18L314.5,437.19L316.0,437.19L317.5,437.20L319.0,437.20L320.5,437.21L322.0,437.22L323.5,437.22L325.0,437.23L326.5,437.23L328.0,437.24L329.5,437.24L331.0,437.25L332.5,437.26L334.0,437.26L335.5,437.27L337.0,437.27L338.5,437.28L340.0,437.28L341.5,437.29L343.0,437.29L344.5,437.30L346.0,437.31L347.5,437.31L349.0,437.32L350.5,437.32L352.0,437.32L353.5,437.33L355.0,437.33L356.5,437.34L358.0,437.34L359.5,437.34L361.0,437.35L362.5,437.35L364.0,437.35L365.5,437.35L367.0,437.35L368.5,437.35L370.0,437.34L371.5,437.33L373.0,437.31L374.5,437.29L376.0,437.27L377.5,437.24L379.0,437.20L380.5,437.16L382.0,437.11L383.5,437.05L385.0,436.98L386.5,436.91L388.0,436.82L389.5,436.73L391.0,436.63L392.5,436.51L394.0,436.38L395.5,436.25L397.0,436.10L398.5,435.93L400.0,435.76L401.5,435.57L403.0,435.37L404.5,435.15L406.0,434.93L407.5,434.69L409.0,434.44L410.5,434.18L412.0,433.91L413.5,433.63L415.0,433.34L416.5,433.03L418.0,432.72L419.5,432.40L421.0,432.07L422.5,431.74L424.0,431.39L425.5,431.03L427.0,430.67L428.5,430.30L430.0,429.92L431.5,429.54L433.0,429.15L434.5,428.75L436.0,428.34L437.5,427.93L439.0,427.52L440.5,427.10L442.0,426.67L443.5,426.24L445.0,425.80L446.5,425.36L448.0,424.92L449.5,424.47L451.0,424.02L452.5,423.57L454.0,423.11L455.5,422.65L457.0,422.19L458.5,421.73L460.0,421.26L461.5,420.80L463.0,420.33L464.5,419.86L466.0,419.40L467.5,418.93L469.0,418.46L470.5,417.99L472.0,417.53L473.5,417.06L475.0,416.60L476.5,416.13L478.0,415.67L479.5,415.21L481.0,414.76L482.5,414.31L484.0,413.86L485.5,413.42L487.0,412.98L488.5,412.55L490.0,412.13L491.5,411.71L493.0,411.30L494.5,410.89L496.0,410.49L497.5,410.10L499.0,409.72L500.5,409.35L502.0,408.99L503.5,408.64L505.0,408.30L506.5,407.97L508.0,407.65L509.5,407.34L511.0,407.05L512.5,406.77L514.0,406.49L515.5,406.24L517.0,405.99L518.5,405.75L520.0,405.53L521.5,405.31L523.0,405.11L524.5,404.92L526.0,404.73L527.5,404.56L529.0,404.39L530.5,404.24L532.0,404.09L533.5,403.95L535.0,403.82L536.5,403.70L538.0,403.58L539.5,403.47L541.0,403.37L542.5,403.28L544.0,403.19L545.5,403.11L547.0,403.03L548.5,402.96L550.0,402.90L551.5,402.84L553.0,402.79L554.5,402.74L556.0,402.70L557.5,402.66L559.0,402.62L560.5,402.59L562.0,402.56L563.5,402.54L565.0,402.51L566.5,402.50L568.0,402.48L569.5,402.47L571.0,402.45L572.5,402.45L574.0,402.44L575.5,402.43L577.0,402.43L578.5,402.43L580.0,402.42L581.5,402.42L583.0,402.42L584.5,402.42L586.0,402.42L587.5,402.42L589.0,402.42L590.5,402.41L592.0,402.41L593.5,402.41L595.0,402.40L596.5,402.39L597.0,402.39" stroke="#238b23" stroke-dasharray="2.9 1.1"/>
<path d="M49.0,434.28L50.5,434.29L52.0,434.29L53.5,434.30L55.0,434.31L56.5,434.32L58.0,434.32L59.5,434.33L61.0,434.34L62.5,434.34L64.0,434.35L65.5,434.36L67.0,434.36L68.5,434.37L70.0,434.37L71.5,434.38L73.0,434.38L74.5,434.39L76.0,434.39L77.5,434.40L79.0,434.40L80.5,434.41L82.0,434.41L83.5,434.41L85.0,434.42L86.5,434.42L88.0,434.43L89.5,434.43L91.0,434.43L92.5,434.43L94.0,434.44L95.5,434.44L97.0,434.44L98.5,434.44L100.0,434.45L101.5,434.45L103.0,434.45L104.5,434.45L106.0,434.45L107.5,434.46L109.0,434.46L110.5,434.46L112.0,434.46L113.5,434.46L115.0,434.46L116.5,434.46L118.0,434.46L119.5,434.47L121.0,434.47L122.5,434.47L124.0,434.47L125.5,434.47L127.0,434.47L128.5,434.47L130.0,434.47L131.5,434.47L133.0,434.47L134.5,434.47L136.0,434.47L137.5,434.47L139.0,434.47L140.5,434.47L142.0,434.47L143.5,434.47L145.0,434.46L146.5,434.46L148.0,434.46L149.5,434.46L151.0,434.46L152.5,434.46L154.0,434.46L155.5,434.46L157.0,434.46L158.5,434.46L160.0,434.46L161.5,434.46L163.0,434.45L164.5,434.45L166.0,434.45L167.5,434.45L169.0,434.45L170.5,434.45L172.0,434.45L173.5,434.45L175.0,434.45L176.5,434.44L178.0,434.44L179.5,434.44L181.0,434.44L182.5,434.44L184.0,434.44L185.5,434.44L187.0,434.44L188.5,434.44L190.0,434.43L191.5,434.43L193.0,434.43L194.5,434.43L196.0,434.43L197.5,434.43L199.0,434.43L200.5,434.43L202.0,434.43L203.5,434.43L205.0,434.43L206.5,434.43L208.0,434.43L209.5,434.43L211.0,434.43L212.5,434.42L214.0,434.42L215.5,434.42L217.0,434.42L218.5,434.42L220.0,434.42L221.5,434.42L223.0,434.42L224.5,434.42L226.0,434.43L227.5,434.43L229.0,434.43L230.5,434.43L232.0,434.43L233.5,434.43L235.0,434.43L236.5,434.43L238.0,434.43L239.5,434.43L241.0,434.43L242.5,434.44L244.0,434.44L245.5,434.44L247.0,434.44L248.5,434.44L250.0,434.45L251.5,434.45L253.0,434.45L254.5,434.45L256.0,434.46L257.5,434.46L259.0,434.46L260.5,434.46L262.0,434.47L263.5,434.47L265.0,434.47L266.5,434.48L268.0,434.48L269.5,434.49L271.0,434.49L272.5,434.50L274.0,434.50L275.5,434.50L277.0,434.51L278.5,434.51L280.0,434.52L281.5,434.53L283.0,434.53L284.5,434.54L286.0,434.54L287.5,434.55L289.0,434.56L290.5,434.56L292.0,434.57L293.5,434.58L295.0,434.58L296.5,434.59L298.0,434.60L299.5,434.61L301.0,434.62L302.5,434.62L304.0,434.63L305.5,434.64L307.0,434.65L308.5,434.66L310.0,434.67L311.5,434.68L313.0,434.69L314.5,434.70L316.0,434.71L317.5,434.72L319.0,434.73L320.5,434.74L322.0,434.75L323.5,434.77L325.0,434.78L326.5,434.79L328.0,434.80L329.5,434.82L331.0,434.83L332.5,434.84L334.0,434.86L335.5,434.87L337.0,434.89L338.5,434.90L340.0,434.92L341.5,434.94L343.0,434.95L344.5,434.97L346.0,434.99L347.5,435.01L349.0,435.03L350.5,435.05L352.0,435.07L353.5,435.10L355.0,435.12L356.5,435.14L358.0,435.17L359.5,435.20L361.0,435.22L362.5,435.25L364.0,435.28L365.5,435.31L367.0,435.34L368.5,435.37L370.0,435.41L371.5,435.44L373.0,435.48L374.5,435.51L376.0,435.55L377.5,435.59L379.0,435.63L380.5,435.67L382.0,435.71L383.5,435.76L385.0,435.80L386.5,435.85L388.0,435.90L389.5,435.95L391.0,436.00L392.5,436.05L394.0,436.11L395.5,436.17L397.0,436.22L398.5,436.28L400.0,436.34L401.5,436.41L403.0,436.47L404.5,436.53L406.0,436.58L407.5,436.64L409.0,436.69L410.5,436.74L412.0,436.78L413.5,436.82L415.0,436.85L416.5,436.88L418.0,436.89L419.5,436.90L421.0,436.90L422.5,436.88L424.0,436.86L425.5,436.82L427.0,436.77L428.5,436.71L430.0,436.63L431.5,436.54L433.0,436.43L434.5,436.30L436.0,436.16L437.5,436.00L439.0,435.82L440.5,435.62L442.0,435.41L443.5,435.19L445.0,434.95L446.5,434.70L448.0,434.43L449.5,434.15L451.0,433.87L452.5,433.57L454.0,433.26L455.5,432.95L457.0,432.62L458.5,432.29L460.0,431.96L461.5,431.62L463.0,431.27L464.5,430.92L466.0,430.57L467.5,430.22L469.0,429.86L470.5,429.50L472.0,429.15L473.5,428.79L475.0,428.44L476.5,428.09L478.0,427.74L479.5,427.39L481.0,427.04L482.5,426.70L484.0,426.37L485.5,426.03L487.0,425.71L488.5,425.38L490.0,425.07L491.5,424.75L493.0,424.45L494.5,424.15L496.0,423.86L497.5,423.57L499.0,423.29L500.5,423.02L502.0,422.76L503.5,422.51L505.0,422.27L506.5,422.04L508.0,421.81L509.5,421.60L511.0,421.40L512.5,421.21L514.0,421.03L515.5,420.86L517.0,420.69L518.5,420.54L520.0,420.40L521.5,420.26L523.0,420.14L524.5,420.02L526.0,419.91L527.5,419.80L529.0,419.70L530.5,419.61L532.0,419.52L533.5,419.44L535.0,419.36L536.5,419.29L538.0,419.22L539.5,419.16L541.0,419.10L542.5,419.04L544.0,418.98L545.5,418.93L547.0,418.88L548.5,418.83L550.0,418.78L551.5,418.74L553.0,418.69L554.5,418.65L556.0,418.60L557.5,418.56L559.0,418.52L560.5,418.48L562.0,418.45L563.5,418.41L565.0,418.37L566.5,418.34L568.0,418.30L569.5,418.27L571.0,418.24L572.5,418.21L574.0,418.18L575.5,418.15L577.0,418.12L578.5,418.09L580.0,418.06L581.5,418.03L583.0,418.00L584.5,417.97L586.0,417.95L587.5,417.92L589.0,417.89L590.5,417.87L592.0,417.84L593.5,417.82L595.0,417.79L596.5,417.76L597.0,417.75" stroke="#ff2424" stroke-dasharray="2.9 1.1"/>
<path d="M49.0,437.56L50.5,437.55L52.0,437.54L53.5,437.53L55.0,437.52L56.5,437.50L58.0,437.48L59.5,437.46L61.0,437.44L62.5,437.42L64.0,437.40L65.5,437.37L67.0,437.35L68.5,437.32L70.0,437.29L71.5,437.26L73.0,437.23L74.5,437.19L76.0,437.16L77.5,437.12L79.0,437.08L80.5,437.05L82.0,437.01L83.5,436.96L85.0,436.92L86.5,436.88L88.0,436.83L89.5,436.79L91.0,436.74L92.5,436.69L94.0,436.64L95.5,436.59L97.0,436.54L98.5,436.49L100.0,436.43L101.5,436.38L103.0,436.32L104.5,436.27L106.0,436.21L107.5,436.15L109.0,436.09L110.5,436.03L112.0,435.97L113.5,435.91L115.0,435.84L116.5,435.78L118.0,435.71L119.5,435.65L121.0,435.58L122.5,435.52L124.0,435.45L125.5,435.38L127.0,435.31L128.5,435.24L130.0,435.17L131.5,435.10L133.0,435.03L134.5,434.96L136.0,434.88L137.5,434.81L139.0,434.74L140.5,434.66L142.0,434.59L143.5,434.51L145.0,434.43L146.5,434.36L148.0,434.28L149.5,434.20L151.0,434.13L152.5,434.05L154.0,433.97L155.5,433.89L157.0,433.81L158.5,433.73L160.0,433.64L161.5,433.55L163.0,433.46L164.5,433.37L166.0,433.27L167.5,433.17L169.0,433.07L170.5,432.96L172.0,432.85L173.5,432.73L175.0,432.60L176.5,432.48L178.0,432.34L179.5,432.20L181.0,432.05L182.5,431.90L184.0,431.74L185.5,431.57L187.0,431.39L188.5,431.21L190.0,431.01L191.5,430.81L193.0,430.60L194.5,430.38L196.0,430.15L197.5,429.91L199.0,429.66L200.5,429.40L202.0,429.13L203.5,428.85L205.0,428.55L206.5,428.24L208.0,427.93L209.5,427.59L211.0,427.25L212.5,426.89L214.0,426.52L215.5,426.14L217.0,425.74L218.5,425.33L220.0,424.90L221.5,424.47L223.0,424.02L224.5,423.56L226.0,423.08L227.5,422.60L229.0,422.10L230.5,421.59L232.0,421.07L233.5,420.55L235.0,420.01L236.5,419.46L238.0,418.90L239.5,418.33L241.0,417.75L242.5,417.16L244.0,416.56L245.5,415.96L247.0,415.35L248.5,414.72L250.0,414.09L251.5,413.45L253.0,412.79L254.5,412.12L256.0,411.44L257.5,410.74L259.0,410.02L260.5,409.29L262.0,408.54L263.5,407.77L265.0,406.98L266.5,406.17L268.0,405.34L269.5,404.48L271.0,403.60L272.5,402.69L274.0,401.76L275.5,400.80L277.0,399.82L278.5,398.80L280.0,397.76L281.5,396.68L283.0,395.58L284.5,394.45L286.0,393.28L287.5,392.09L289.0,390.87L290.5,389.62L292.0,388.33L293.5,387.02L295.0,385.67L296.5,384.30L298.0,382.90L299.5,381.46L301.0,380.00L302.5,378.51L304.0,377.00L305.5,375.45L307.0,373.88L308.5,372.29L310.0,370.67L311.5,369.02L313.0,367.35L314.5,365.66L316.0,363.96L317.5,362.23L319.0,360.49L320.5,358.74L322.0,356.97L323.5,355.19L325.0,353.41L326.5,351.62L328.0,349.82L329.5,348.02L331.0,346.21L332.5,344.41L334.0,342.61L335.5,340.81L337.0,339.02L338.5,337.23L340.0,335.45L341.5,333.68L343.0,331.93L344.5,330.18L346.0,328.46L347.5,326.75L349.0,325.07L350.5,323.41L352.0,321.77L353.5,320.17L355.0,318.59L356.5,317.05L358.0,315.55L359.5,314.08L361.0,312.65L362.5,311.26L364.0,309.92L365.5,308.62L367.0,307.38L368.5,306.18L370.0,305.04L371.5,303.96L373.0,302.93L374.5,301.97L376.0,301.06L377.5,300.20L379.0,299.40L380.5,298.66L382.0,297.97L383.5,297.32L385.0,296.73L386.5,296.19L388.0,295.70L389.5,295.25L391.0,294.85L392.5,294.50L394.0,294.19L395.5,293.92L397.0,293.69L398.5,293.50L400.0,293.35L401.5,293.24L403.0,293.17L404.5,293.13L406.0,293.12L407.5,293.15L409.0,293.21L410.5,293.30L412.0,293.42L413.5,293.57L415.0,293.74L416.5,293.95L418.0,294.17L419.5,294.43L421.0,294.70L422.5,295.00L424.0,295.31L425.5,295.65L427.0,296.00L428.5,296.38L430.0,296.76L431.5,297.17L433.0,297.58L434.5,298.01L436.0,298.45L437.5,298.90L439.0,299.36L440.5,299.83L442.0,300.30L443.5,300.78L445.0,301.27L446.5,301.76L448.0,302.25L449.5,302.74L451.0,303.23L452.5,303.72L454.0,304.21L455.5,304.69L457.0,305.17L458.5,305.65L460.0,306.11L461.5,306.57L463.0,307.02L464.5,307.46L466.0,307.89L467.5,308.31L469.0,308.71L470.5,309.10L472.0,309.48L473.5,309.85L475.0,310.20L476.5,310.55L478.0,310.88L479.5,311.21L481.0,311.52L482.5,311.82L484.0,312.12L485.5,312.40L487.0,312.68L488.5,312.95L490.0,313.21L491.5,313.46L493.0,313.70L494.5,313.94L496.0,314.17L497.5,314.40L499.0,314.61L500.5,314.83L502.0,315.03L503.5,315.24L504.5,315.37" stroke="#2424ff"/>
<path d="M49.0,437.56L50.5,437.55L52.0,437.53L53.5,437.51L55.0,437.50L56.5,437.48L58.0,437.46L59.5,437.45L61.0,437.43L62.5,437.41L64.0,437.40L65.5,437.38L67.0,437.36L68.5,437.34L70.0,437.32L71.5,437.30L73.0,437.28L74.5,437.26L76.0,437.24L77.5,437.22L79.0,437.20L80.5,437.17L82.0,437.15L83.5,437.13L85.0,437.10L86.5,437.08L88.0,437.05L89.5,437.02L91.0,437.00L92.5,436.97L94.0,436.94L95.5,436.91L97.0,436.88L98.5,436.85L100.0,436.82L101.5,436.78L103.0,436.75L104.5,436.71L106.0,436.68L107.5,436.64L109.0,436.60L110.5,436.57L112.0,436.53L113.5,436.48L115.0,436.44L116.5,436.40L118.0,436.35L119.5,436.31L121.0,436.26L122.5,436.21L124.0,436.17L125.5,436.11L127.0,436.06L128.5,436.01L130.0,435.96L131.5,435.90L133.0,435.84L134.5,435.78L136.0,435.72L137.5,435.66L139.0,435.60L140.5,435.54L142.0,435.47L143.5,435.40L145.0,435.33L146.5,435.26L148.0,435.19L149.5,435.12L151.0,435.04L152.5,434.97L154.0,434.89L155.5,434.81L157.0,434.72L158.5,434.64L160.0,434.55L161.5,434.46L163.0,434.37L164.5,434.27L166.0,434.17L167.5,434.07L169.0,433.96L170.5,433.86L172.0,433.74L173.5,433.63L175.0,433.51L176.5,433.38L178.0,433.25L179.5,433.12L181.0,432.98L182.5,432.84L184.0,432.69L185.5,432.54L187.0,432.38L188.5,432.22L190.0,432.05L191.5,431.88L193.0,431.70L194.5,431.51L196.0,431.32L197.5,431.12L199.0,430.92L200.5,430.71L202.0,430.49L203.5,430.27L205.0,430.04L206.5,429.80L208.0,429.55L209.5,429.30L211.0,429.04L212.5,428.77L214.0,428.50L215.5,428.21L217.0,427.92L218.5,427.62L220.0,427.31L221.5,426.99L223.0,426.67L224.5,426.33L226.0,425.99L227.5,425.64L229.0,425.27L230.5,424.90L232.0,424.52L233.5,424.13L235.0,423.73L236.5,423.32L238.0,422.90L239.5,422.46L241.0,422.02L242.5,421.57L244.0,421.10L245.5,420.63L247.0,420.14L248.5,419.65L250.0,419.14L251.5,418.62L253.0,418.08L254.5,417.54L256.0,416.99L257.5,416.42L259.0,415.84L260.5,415.24L262.0,414.64L263.5,414.02L265.0,413.39L266.5,412.74L268.0,412.09L269.5,411.42L271.0,410.73L272.5,410.03L274.0,409.32L275.5,408.59L277.0,407.85L278.5,407.10L280.0,406.33L281.5,405.55L283.0,404.75L284.5,403.93L286.0,403.10L287.5,402.25L289.0,401.39L290.5,400.51L292.0,399.61L293.5,398.69L295.0,397.75L296.5,396.80L298.0,395.83L299.5,394.83L301.0,393.82L302.5,392.79L304.0,391.73L305.5,390.66L307.0,389.56L308.5,388.44L310.0,387.31L311.5,386.14L313.0,384.96L314.5,383.76L316.0,382.55L317.5,381.31L319.0,380.07L320.5,378.80L322.0,377.53L323.5,376.25L325.0,374.95L326.5,373.65L328.0,372.34L329.5,371.02L331.0,369.70L332.5,368.38L334.0,367.05L335.5,365.73L337.0,364.40L338.5,363.08L340.0,361.76L341.5,360.44L343.0,359.13L344.5,357.83L346.0,356.53L347.5,355.25L349.0,353.98L350.5,352.73L352.0,351.49L353.5,350.26L355.0,349.06L356.5,347.88L358.0,346.72L359.5,345.58L361.0,344.47L362.5,343.38L364.0,342.33L365.5,341.30L367.0,340.31L368.5,339.35L370.0,338.42L371.5,337.53L373.0,336.68L374.5,335.87L376.0,335.10L377.5,334.36L379.0,333.66L380.5,333.00L382.0,332.38L383.5,331.80L385.0,331.25L386.5,330.73L388.0,330.26L389.5,329.81L391.0,329.41L392.5,329.04L394.0,328.70L395.5,328.40L397.0,328.13L398.5,327.89L400.0,327.69L401.5,327.52L403.0,327.39L404.5,327.29L406.0,327.22L407.5,327.18L409.0,327.16L410.5,327.18L412.0,327.23L413.5,327.30L415.0,327.40L416.5,327.52L418.0,327.66L419.5,327.83L421.0,328.01L422.5,328.22L424.0,328.45L425.5,328.69L427.0,328.95L428.5,329.23L430.0,329.52L431.5,329.82L433.0,330.14L434.5,330.47L436.0,330.81L437.5,331.16L439.0,331.51L440.5,331.87L442.0,332.24L443.5,332.62L445.0,333.00L446.5,333.38L448.0,333.76L449.5,334.14L451.0,334.53L452.5,334.91L454.0,335.29L455.5,335.66L457.0,336.03L458.5,336.40L460.0,336.76L461.5,337.11L463.0,337.45L464.5,337.78L466.0,338.10L467.5,338.41L469.0,338.71L470.5,338.99L472.0,339.26L473.5,339.52L475.0,339.77L476.5,340.01L478.0,340.23L479.5,340.45L481.0,340.65L482.5,340.85L484.0,341.03L485.5,341.20L487.0,341.37L488.5,341.52L490.0,341.66L491.5,341.80L493.0,341.92L494.5,342.04L496.0,342.14L497.5,342.24L499.0,342.33L500.5,342.41L502.0,342.48L503.5,342.55L504.5,342.59" stroke="#238b23"/>
<path d="M49.0,437.65L50.5,437.63L52.0,437.61L53.5,437.59L55.0,437.58L56.5,437.56L58.0,437.54L59.5,437.52L61.0,437.50L62.5,437.49L64.0,437.47L65.5,437.45L67.0,437.43L68.5,437.41L70.0,437.40L71.5,437.38L73.0,437.36L74.5,437.34L76.0,437.32L77.5,437.31L79.0,437.29L80.5,437.27L82.0,437.25L83.5,437.23L85.0,437.21L86.5,437.19L88.0,437.17L89.5,437.15L91.0,437.13L92.5,437.10L94.0,437.08L95.5,437.06L97.0,437.03L98.5,437.01L100.0,436.98L101.5,436.96L103.0,436.93L104.5,436.90L106.0,436.88L107.5,436.85L109.0,436.82L110.5,436.79L112.0,436.76L113.5,436.73L115.0,436.69L116.5,436.66L118.0,436.62L119.5,436.59L121.0,436.55L122.5,436.51L124.0,436.48L125.5,436.44L127.0,436.39L128.5,436.35L130.0,436.31L131.5,436.26L133.0,436.22L134.5,436.17L136.0,436.12L137.5,436.07L139.0,436.02L140.5,435.97L142.0,435.91L143.5,435.86L145.0,435.80L146.5,435.74L148.0,435.68L149.5,435.62L151.0,435.56L152.5,435.49L154.0,435.43L155.5,435.36L157.0,435.29L158.5,435.22L160.0,435.14L161.5,435.07L163.0,434.99L164.5,434.91L166.0,434.83L167.5,434.75L169.0,434.67L170.5,434.58L172.0,434.49L173.5,434.40L175.0,434.31L176.5,434.21L178.0,434.12L179.5,434.02L181.0,433.92L182.5,433.81L184.0,433.71L185.5,433.60L187.0,433.49L188.5,433.38L190.0,433.27L191.5,433.15L193.0,433.03L194.5,432.91L196.0,432.78L197.5,432.66L199.0,432.53L200.5,432.40L202.0,432.26L203.5,432.13L205.0,431.99L206.5,431.85L208.0,431.70L209.5,431.55L211.0,431.40L212.5,431.25L214.0,431.10L215.5,430.94L217.0,430.78L218.5,430.61L220.0,430.45L221.5,430.28L223.0,430.10L224.5,429.93L226.0,429.75L227.5,429.57L229.0,429.38L230.5,429.20L232.0,429.01L233.5,428.81L235.0,428.61L236.5,428.41L238.0,428.21L239.5,428.00L241.0,427.79L242.5,427.58L244.0,427.36L245.5,427.14L247.0,426.92L248.5,426.69L250.0,426.46L251.5,426.23L253.0,425.99L254.5,425.75L256.0,425.51L257.5,425.26L259.0,425.01L260.5,424.75L262.0,424.49L263.5,424.23L265.0,423.96L266.5,423.69L268.0,423.42L269.5,423.14L271.0,422.86L272.5,422.57L274.0,422.28L275.5,421.99L277.0,421.69L278.5,421.39L280.0,421.09L281.5,420.78L283.0,420.46L284.5,420.14L286.0,419.81L287.5,419.48L289.0,419.14L290.5,418.80L292.0,418.45L293.5,418.09L295.0,417.72L296.5,417.35L298.0,416.97L299.5,416.58L301.0,416.18L302.5,415.77L304.0,415.35L305.5,414.92L307.0,414.49L308.5,414.04L310.0,413.58L311.5,413.11L313.0,412.64L314.5,412.15L316.0,411.66L317.5,411.17L319.0,410.67L320.5,410.17L322.0,409.67L323.5,409.17L325.0,408.67L326.5,408.17L328.0,407.68L329.5,407.20L331.0,406.72L332.5,406.25L334.0,405.78L335.5,405.33L337.0,404.89L338.5,404.47L340.0,404.06L341.5,403.66L343.0,403.29L344.5,402.92L346.0,402.58L347.5,402.25L349.0,401.93L350.5,401.63L352.0,401.35L353.5,401.08L355.0,400.83L356.5,400.59L358.0,400.37L359.5,400.17L361.0,399.97L362.5,399.80L364.0,399.63L365.5,399.49L367.0,399.35L368.5,399.23L370.0,399.13L371.5,399.04L373.0,398.96L374.5,398.90L376.0,398.85L377.5,398.81L379.0,398.79L380.5,398.78L382.0,398.79L383.5,398.81L385.0,398.84L386.5,398.88L388.0,398.94L389.5,399.01L391.0,399.09L392.5,399.18L394.0,399.29L395.5,399.41L397.0,399.54L398.5,399.69L400.0,399.84L401.5,400.01L403.0,400.19L404.5,400.38L406.0,400.58L407.5,400.79L409.0,401.02L410.5,401.25L412.0,401.49L413.5,401.75L415.0,402.01L416.5,402.28L418.0,402.56L419.5,402.85L421.0,403.14L422.5,403.44L424.0,403.75L425.5,404.07L427.0,404.39L428.5,404.72L430.0,405.05L431.5,405.39L433.0,405.74L434.5,406.08L436.0,406.44L437.5,406.79L439.0,407.15L440.5,407.51L442.0,407.88L443.5,408.25L445.0,408.62L446.5,408.99L448.0,409.36L449.5,409.73L451.0,410.11L452.5,410.48L454.0,410.85L455.5,411.23L457.0,411.60L458.5,411.97L460.0,412.34L461.5,412.70L463.0,413.07L464.5,413.43L466.0,413.79L467.5,414.14L469.0,414.50L470.5,414.84L472.0,415.19L473.5,415.52L475.0,415.86L476.5,416.18L478.0,416.50L479.5,416.82L481.0,417.13L482.5,417.43L484.0,417.72L485.5,418.01L487.0,418.28L488.5,418.55L490.0,418.81L491.5,419.06L493.0,419.31L494.5,419.54L496.0,419.76L497.5,419.97L499.0,420.17L500.5,420.36L502.0,420.53L503.5,420.70L504.5,420.80" stroke="#ff2424"/>
</g>
<path d="M49.0,437.90h8.0 M49.0,431.83h2.2 M49.0,425.76h2.2 M49.0,419.69h2.2 M49.0,413.62h2.2 M49.0,407.55h8.0 M49.0,401.48h2.2 M49.0,395.41h2.2 M49.0,389.34h2.2 M49.0,383.27h2.2 M49.0,377.20h8.0 M49.0,371.13h2.2 M49.0,365.06h2.2 M49.0,358.99h2.2 M49.0,352.92h2.2 M49.0,346.85h8.0 M49.0,340.78h2.2 M49.0,334.71h2.2 M49.0,328.64h2.2 M49.0,322.57h2.2 M49.0,316.50h8.0 M49.0,310.43h2.2 M49.0,304.36h2.2 M49.0,298.29h2.2 M49.0,292.22h2.2 M49.0,286.15h8.0 M49.0,280.08h2.2 M49.0,274.01h2.2 M49.0,267.94h2.2 M49.0,261.87h2.2 M49.0,255.80h8.0 M69.62,437.9v-3.4 M81.68,437.9v-3.4 M90.24,437.9v-3.4 M96.88,437.9v-3.4 M102.30,437.9v-3.4 M106.89,437.9v-3.4 M110.86,437.9v-3.4 M114.37,437.9v-3.4 M117.50,437.9v-8.0 M138.12,437.9v-3.4 M150.18,437.9v-3.4 M158.74,437.9v-3.4 M165.38,437.9v-3.4 M170.80,437.9v-3.4 M175.39,437.9v-3.4 M179.36,437.9v-3.4 M182.87,437.9v-3.4 M186.00,437.9v-8.0 M206.62,437.9v-3.4 M218.68,437.9v-3.4 M227.24,437.9v-3.4 M233.88,437.9v-3.4 M239.30,437.9v-3.4 M243.89,437.9v-3.4 M247.86,437.9v-3.4 M251.37,437.9v-3.4 M254.50,437.9v-8.0 M275.12,437.9v-3.4 M287.18,437.9v-3.4 M295.74,437.9v-3.4 M302.38,437.9v-3.4 M307.80,437.9v-3.4 M312.39,437.9v-3.4 M316.36,437.9v-3.4 M319.87,437.9v-3.4 M323.00,437.9v-8.0 M343.62,437.9v-3.4 M355.68,437.9v-3.4 M364.24,437.9v-3.4 M370.88,437.9v-3.4 M376.30,437.9v-3.4 M380.89,437.9v-3.4 M384.86,437.9v-3.4 M388.37,437.9v-3.4 M391.50,437.9v-8.0 M412.12,437.9v-3.4 M424.18,437.9v-3.4 M432.74,437.9v-3.4 M439.38,437.9v-3.4 M444.80,437.9v-3.4 M449.39,437.9v-3.4 M453.36,437.9v-3.4 M456.87,437.9v-3.4 M460.00,437.9v-8.0 M480.62,437.9v-3.4 M492.68,437.9v-3.4 M501.24,437.9v-3.4 M507.88,437.9v-3.4 M513.30,437.9v-3.4 M517.89,437.9v-3.4 M521.86,437.9v-3.4 M525.37,437.9v-3.4 M528.50,437.9v-8.0 M549.12,437.9v-3.4 M561.18,437.9v-3.4 M569.74,437.9v-3.4 M576.38,437.9v-3.4 M581.80,437.9v-3.4 M586.39,437.9v-3.4 M590.36,437.9v-3.4 M593.87,437.9v-3.4" stroke="#1a1a1a" stroke-width="1.1" fill="none"/>
<path d="M49.0,426.3H597.0" stroke="#1a1a1a" stroke-width="1.2" stroke-dasharray="3.1 1.2 0.9 1.4"/>
<rect x="49.0" y="255.80" width="548.0" height="182.10" fill="none" stroke="#2e2e2e" stroke-width="1.6"/>
<text x="47.6" y="443.2" font-size="17.5" text-anchor="end" textLength="9.1" lengthAdjust="spacingAndGlyphs">0</text>
<text x="47.6" y="412.8" font-size="17.5" text-anchor="end" textLength="9.1" lengthAdjust="spacingAndGlyphs">5</text>
<text x="47.6" y="382.5" font-size="17.5" text-anchor="end" textLength="18.2" lengthAdjust="spacingAndGlyphs">10</text>
<text x="47.6" y="352.2" font-size="17.5" text-anchor="end" textLength="18.2" lengthAdjust="spacingAndGlyphs">15</text>
<text x="47.6" y="321.8" font-size="17.5" text-anchor="end" textLength="18.2" lengthAdjust="spacingAndGlyphs">20</text>
<text x="47.6" y="291.4" font-size="17.5" text-anchor="end" textLength="18.2" lengthAdjust="spacingAndGlyphs">25</text>
<text x="47.6" y="261.1" font-size="17.5" text-anchor="end" textLength="18.2" lengthAdjust="spacingAndGlyphs">30</text>
<text x="117.1" y="454.3" font-size="17.5" text-anchor="middle">10<tspan font-size="12.5" dy="-6.1">−</tspan><tspan font-size="12" dx="0.5">29</tspan></text>
<text x="254.1" y="454.3" font-size="17.5" text-anchor="middle">10<tspan font-size="12.5" dy="-6.1">−</tspan><tspan font-size="12" dx="0.5">27</tspan></text>
<text x="391.1" y="454.3" font-size="17.5" text-anchor="middle">10<tspan font-size="12.5" dy="-6.1">−</tspan><tspan font-size="12" dx="0.5">25</tspan></text>
<text x="528.1" y="454.3" font-size="17.5" text-anchor="middle">10<tspan font-size="12.5" dy="-6.1">−</tspan><tspan font-size="12" dx="0.5">23</tspan></text>
<g transform="translate(293.90,475.60) scale(1.000)" fill="none" stroke="#111" stroke-linecap="round"><path d="M0.25,-5.4 C0.9,-7.0 2.0,-7.7 3.0,-7.6 C4.5,-7.4 5.1,-5.4 5.3,-1.9" stroke-width="1.15"/><path d="M9.0,-7.5 C7.4,-4.8 5.6,-1.8 4.6,0.0 C3.8,1.4 3.2,2.5 2.9,3.3" stroke-width="1.55"/></g>
<text x="303.1" y="478.5" font-size="12.5">0</text>
<text x="310.1" y="475.6" font-size="16" textLength="40.9" lengthAdjust="spacingAndGlyphs">(GeV)</text>
<path d="M8.2,354.6 L24.8,359.4" stroke="#111" stroke-width="1.0" fill="none"/><path d="M25.4,359.5 L16.7,363.7" stroke="#111" stroke-width="1.9" fill="none" stroke-linecap="round"/><path d="M16.7,363.7 L17.6,366.1" stroke="#111" stroke-width="1.0" fill="none"/><path d="M13.1,343.7 L2.7,348.1 L13.1,352.1 Z" stroke="#111" stroke-width="1.0" fill="none" stroke-linejoin="miter"/><path d="M2.9,348.0 L13.1,343.8 L13.1,352.1" stroke="#111" stroke-width="1.6" fill="none"/><path d="M6.4,333.2 L17.6,344.3" stroke="#111" stroke-width="0.9" fill="none"/><path d="M6.3,339.1 L6.5,341.0 C9.2,340.0 12.2,338.9 14.8,338.2 C16.4,337.7 16.9,336.8 15.7,335.2" stroke="#111" stroke-width="1.6" fill="none"/><g transform="translate(13.3,365.8) rotate(-90)"><text x="33.4" y="-5.3" font-size="11.5">2</text></g>
<path d="M607.3,327.7H623.4" stroke="#2424ff" stroke-width="1.3"/>
<path d="M607.3,332.5H623.4" stroke="#2424ff" stroke-width="1.2" stroke-dasharray="2.4 1.3"/>
<g transform="translate(625.30,329.80) scale(1.000)" fill="none" stroke="#111" stroke-linecap="round"><path d="M0.25,-5.4 C0.9,-7.0 2.0,-7.7 3.0,-7.6 C4.5,-7.4 5.1,-5.4 5.3,-1.9" stroke-width="1.15"/><path d="M9.0,-7.5 C7.4,-4.8 5.6,-1.8 4.6,0.0 C3.8,1.4 3.2,2.5 2.9,3.3" stroke-width="1.55"/></g>
<text x="634.1" y="332.6" font-size="11.5">32</text>
<path d="M647.3,323.60H656.2M647.3,327.20H656.2" stroke="#111" stroke-width="1.15"/>
<g transform="translate(657.90,329.80) scale(1.000)" fill="none" stroke="#111" stroke-linecap="round"><path d="M0.25,-5.4 C0.9,-7.0 2.0,-7.7 3.0,-7.6 C4.5,-7.4 5.1,-5.4 5.3,-1.9" stroke-width="1.15"/><path d="M9.0,-7.5 C7.4,-4.8 5.6,-1.8 4.6,0.0 C3.8,1.4 3.2,2.5 2.9,3.3" stroke-width="1.55"/></g>
<text x="666.8" y="332.6" font-size="11.5">21</text>
<path d="M607.3,355.3H623.4" stroke="#238b23" stroke-width="1.3"/>
<path d="M607.3,360.1H623.4" stroke="#238b23" stroke-width="1.2" stroke-dasharray="2.4 1.3"/>
<g transform="translate(625.30,357.40) scale(1.000)" fill="none" stroke="#111" stroke-linecap="round"><path d="M0.25,-5.4 C0.9,-7.0 2.0,-7.7 3.0,-7.6 C4.5,-7.4 5.1,-5.4 5.3,-1.9" stroke-width="1.15"/><path d="M9.0,-7.5 C7.4,-4.8 5.6,-1.8 4.6,0.0 C3.8,1.4 3.2,2.5 2.9,3.3" stroke-width="1.55"/></g>
<text x="634.1" y="360.2" font-size="11.5">31</text>
<path d="M647.3,351.20H656.2M647.3,354.80H656.2" stroke="#111" stroke-width="1.15"/>
<g transform="translate(657.90,357.40) scale(1.000)" fill="none" stroke="#111" stroke-linecap="round"><path d="M0.25,-5.4 C0.9,-7.0 2.0,-7.7 3.0,-7.6 C4.5,-7.4 5.1,-5.4 5.3,-1.9" stroke-width="1.15"/><path d="M9.0,-7.5 C7.4,-4.8 5.6,-1.8 4.6,0.0 C3.8,1.4 3.2,2.5 2.9,3.3" stroke-width="1.55"/></g>
<text x="666.8" y="360.2" font-size="11.5">21</text>
<path d="M607.3,383.1H623.4" stroke="#ff2424" stroke-width="1.3"/>
<path d="M607.3,387.9H623.4" stroke="#ff2424" stroke-width="1.2" stroke-dasharray="2.4 1.3"/>
<g transform="translate(625.30,385.20) scale(1.000)" fill="none" stroke="#111" stroke-linecap="round"><path d="M0.25,-5.4 C0.9,-7.0 2.0,-7.7 3.0,-7.6 C4.5,-7.4 5.1,-5.4 5.3,-1.9" stroke-width="1.15"/><path d="M9.0,-7.5 C7.4,-4.8 5.6,-1.8 4.6,0.0 C3.8,1.4 3.2,2.5 2.9,3.3" stroke-width="1.55"/></g>
<text x="634.1" y="388.0" font-size="11.5">31</text>
<path d="M647.3,379.00H656.2M647.3,382.60H656.2" stroke="#111" stroke-width="1.15"/>
<g transform="translate(657.90,385.20) scale(1.000)" fill="none" stroke="#111" stroke-linecap="round"><path d="M0.25,-5.4 C0.9,-7.0 2.0,-7.7 3.0,-7.6 C4.5,-7.4 5.1,-5.4 5.3,-1.9" stroke-width="1.15"/><path d="M9.0,-7.5 C7.4,-4.8 5.6,-1.8 4.6,0.0 C3.8,1.4 3.2,2.5 2.9,3.3" stroke-width="1.55"/></g>
<text x="666.8" y="388.0" font-size="11.5">32</text>
<path d="M607.3,410.0H626.7" stroke="#000" stroke-width="1.3" stroke-dasharray="2.4 0.8 0.9 0.8"/>
<text x="630.5" y="413.0" font-size="16.5">95% CL</text>
<rect x="411.8" y="504.6" width="185.2" height="182.1" fill="#e6e6e6"/>
<g fill="none" stroke-width="1.25">
<path d="M49.0,685.00L50.5,685.00L52.0,685.00L53.5,685.00L55.0,685.00L56.5,685.01L58.0,685.01L59.5,685.01L61.0,685.01L62.5,685.01L64.0,685.02L65.5,685.02L67.0,685.02L68.5,685.02L70.0,685.02L71.5,685.02L73.0,685.03L74.5,685.03L76.0,685.03L77.5,685.03L79.0,685.03L80.5,685.03L82.0,685.04L83.5,685.04L85.0,685.04L86.5,685.04L88.0,685.04L89.5,685.04L91.0,685.04L92.5,685.04L94.0,685.05L95.5,685.05L97.0,685.05L98.5,685.05L100.0,685.05L101.5,685.05L103.0,685.05L104.5,685.05L106.0,685.06L107.5,685.06L109.0,685.06L110.5,685.06L112.0,685.06L113.5,685.06L115.0,685.06L116.5,685.06L118.0,685.06L119.5,685.06L121.0,685.06L122.5,685.07L124.0,685.07L125.5,685.07L127.0,685.07L128.5,685.07L130.0,685.07L131.5,685.07L133.0,685.07L134.5,685.07L136.0,685.07L137.5,685.07L139.0,685.07L140.5,685.08L142.0,685.08L143.5,685.08L145.0,685.08L146.5,685.08L148.0,685.08L149.5,685.08L151.0,685.08L152.5,685.08L154.0,685.08L155.5,685.08L157.0,685.08L158.5,685.08L160.0,685.08L161.5,685.08L163.0,685.09L164.5,685.09L166.0,685.09L167.5,685.09L169.0,685.09L170.5,685.09L172.0,685.09L173.5,685.09L175.0,685.09L176.5,685.09L178.0,685.09L179.5,685.09L181.0,685.09L182.5,685.09L184.0,685.09L185.5,685.10L187.0,685.10L188.5,685.10L190.0,685.10L191.5,685.10L193.0,685.10L194.5,685.10L196.0,685.10L197.5,685.10L199.0,685.10L200.5,685.10L202.0,685.10L203.5,685.10L205.0,685.11L206.5,685.11L208.0,685.11L209.5,685.11L211.0,685.11L212.5,685.11L214.0,685.11L215.5,685.11L217.0,685.11L218.5,685.11L220.0,685.11L221.5,685.11L223.0,685.12L224.5,685.12L226.0,685.12L227.5,685.12L229.0,685.12L230.5,685.12L232.0,685.12L233.5,685.12L235.0,685.12L236.5,685.13L238.0,685.13L239.5,685.13L241.0,685.13L242.5,685.13L244.0,685.13L245.5,685.13L247.0,685.13L248.5,685.14L250.0,685.14L251.5,685.14L253.0,685.14L254.5,685.14L256.0,685.14L257.5,685.14L259.0,685.15L260.5,685.15L262.0,685.15L263.5,685.15L265.0,685.15L266.5,685.15L268.0,685.16L269.5,685.16L271.0,685.16L272.5,685.16L274.0,685.16L275.5,685.17L277.0,685.17L278.5,685.17L280.0,685.17L281.5,685.17L283.0,685.18L284.5,685.18L286.0,685.18L287.5,685.18L289.0,685.18L290.5,685.19L292.0,685.19L293.5,685.19L295.0,685.19L296.5,685.20L298.0,685.20L299.5,685.20L301.0,685.20L302.5,685.21L304.0,685.21L305.5,685.21L307.0,685.21L308.5,685.22L310.0,685.22L311.5,685.22L313.0,685.23L314.5,685.23L316.0,685.23L317.5,685.23L319.0,685.24L320.5,685.24L322.0,685.24L323.5,685.25L325.0,685.25L326.5,685.25L328.0,685.26L329.5,685.26L331.0,685.26L332.5,685.27L334.0,685.27L335.5,685.27L337.0,685.28L338.5,685.28L340.0,685.28L341.5,685.29L343.0,685.29L344.5,685.29L346.0,685.30L347.5,685.30L349.0,685.30L350.5,685.30L352.0,685.31L353.5,685.31L355.0,685.31L356.5,685.31L358.0,685.31L359.5,685.31L361.0,685.31L362.5,685.32L364.0,685.32L365.5,685.32L367.0,685.32L368.5,685.32L370.0,685.31L371.5,685.31L373.0,685.31L374.5,685.31L376.0,685.31L377.5,685.31L379.0,685.30L380.5,685.30L382.0,685.30L383.5,685.29L385.0,685.29L386.5,685.28L388.0,685.28L389.5,685.27L391.0,685.27L392.5,685.26L394.0,685.25L395.5,685.25L397.0,685.24L398.5,685.23L400.0,685.22L401.5,685.21L403.0,685.19L404.5,685.18L406.0,685.15L407.5,685.13L409.0,685.09L410.5,685.05L412.0,685.00L413.5,684.94L415.0,684.87L416.5,684.79L418.0,684.70L419.5,684.60L421.0,684.48L422.5,684.34L424.0,684.19L425.5,684.03L427.0,683.85L428.5,683.64L430.0,683.42L431.5,683.18L433.0,682.92L434.5,682.63L436.0,682.32L437.5,681.99L439.0,681.64L440.5,681.26L442.0,680.86L443.5,680.44L445.0,679.99L446.5,679.53L448.0,679.04L449.5,678.54L451.0,678.01L452.5,677.46L454.0,676.90L455.5,676.31L457.0,675.71L458.5,675.09L460.0,674.45L461.5,673.79L463.0,673.12L464.5,672.42L466.0,671.72L467.5,670.99L469.0,670.26L470.5,669.50L472.0,668.73L473.5,667.95L475.0,667.16L476.5,666.35L478.0,665.53L479.5,664.71L481.0,663.88L482.5,663.04L484.0,662.20L485.5,661.36L487.0,660.52L488.5,659.68L490.0,658.85L491.5,658.02L493.0,657.20L494.5,656.39L496.0,655.58L497.5,654.79L499.0,654.01L500.5,653.25L502.0,652.49L503.5,651.76L505.0,651.04L506.5,650.33L508.0,649.65L509.5,648.99L511.0,648.35L512.5,647.73L514.0,647.13L515.5,646.56L517.0,646.00L518.5,645.47L520.0,644.95L521.5,644.46L523.0,643.99L524.5,643.54L526.0,643.10L527.5,642.69L529.0,642.29L530.5,641.92L532.0,641.56L533.5,641.22L535.0,640.90L536.5,640.59L538.0,640.31L539.5,640.04L541.0,639.79L542.5,639.55L544.0,639.33L545.5,639.13L547.0,638.95L548.5,638.78L550.0,638.62L551.5,638.48L553.0,638.35L554.5,638.24L556.0,638.14L557.5,638.05L559.0,637.97L560.5,637.91L562.0,637.85L563.5,637.81L565.0,637.77L566.5,637.74L568.0,637.72L569.5,637.71L571.0,637.70L572.5,637.70L574.0,637.71L575.5,637.72L577.0,637.73L578.5,637.75L580.0,637.77L581.5,637.80L583.0,637.82L584.5,637.85L586.0,637.88L587.5,637.91L589.0,637.94L590.5,637.96L592.0,637.99L593.5,638.01L595.0,638.03L596.5,638.05L597.0,638.05" stroke="#2424ff" stroke-dasharray="2.9 1.1"/>
<path d="M49.0,685.89L50.5,685.89L52.0,685.90L53.5,685.90L55.0,685.90L56.5,685.91L58.0,685.91L59.5,685.91L61.0,685.92L62.5,685.92L64.0,685.92L65.5,685.93L67.0,685.93L68.5,685.93L70.0,685.93L71.5,685.94L73.0,685.94L74.5,685.94L76.0,685.94L77.5,685.95L79.0,685.95L80.5,685.95L82.0,685.95L83.5,685.95L85.0,685.96L86.5,685.96L88.0,685.96L89.5,685.96L91.0,685.96L92.5,685.96L94.0,685.97L95.5,685.97L97.0,685.97L98.5,685.97L100.0,685.97L101.5,685.97L103.0,685.97L104.5,685.97L106.0,685.97L107.5,685.97L109.0,685.98L110.5,685.98L112.0,685.98L113.5,685.98L115.0,685.98L116.5,685.98L118.0,685.98L119.5,685.98L121.0,685.98L122.5,685.98L124.0,685.98L125.5,685.98L127.0,685.98L128.5,685.98L130.0,685.98L131.5,685.98L133.0,685.98L134.5,685.98L136.0,685.98L137.5,685.98L139.0,685.98L140.5,685.98L142.0,685.98L143.5,685.98L145.0,685.98L146.5,685.98L148.0,685.98L149.5,685.98L151.0,685.98L152.5,685.98L154.0,685.98L155.5,685.97L157.0,685.97L158.5,685.97L160.0,685.97L161.5,685.97L163.0,685.97L164.5,685.97L166.0,685.97L167.5,685.97L169.0,685.97L170.5,685.97L172.0,685.97L173.5,685.97L175.0,685.97L176.5,685.97L178.0,685.96L179.5,685.96L181.0,685.96L182.5,685.96L184.0,685.96L185.5,685.96L187.0,685.96L188.5,685.96L190.0,685.96L191.5,685.96L193.0,685.96L194.5,685.96L196.0,685.96L197.5,685.95L199.0,685.95L200.5,685.95L202.0,685.95L203.5,685.95L205.0,685.95L206.5,685.95L208.0,685.95L209.5,685.95L211.0,685.95L212.5,685.95L214.0,685.95L215.5,685.95L217.0,685.95L218.5,685.95L220.0,685.94L221.5,685.94L223.0,685.94L224.5,685.94L226.0,685.94L227.5,685.94L229.0,685.94L230.5,685.94L232.0,685.94L233.5,685.94L235.0,685.94L236.5,685.94L238.0,685.94L239.5,685.94L241.0,685.94L242.5,685.94L244.0,685.94L245.5,685.94L247.0,685.94L248.5,685.94L250.0,685.94L251.5,685.94L253.0,685.94L254.5,685.94L256.0,685.94L257.5,685.94L259.0,685.94L260.5,685.94L262.0,685.95L263.5,685.95L265.0,685.95L266.5,685.95L268.0,685.95L269.5,685.95L271.0,685.95L272.5,685.95L274.0,685.95L275.5,685.95L277.0,685.96L278.5,685.96L280.0,685.96L281.5,685.96L283.0,685.96L284.5,685.96L286.0,685.96L287.5,685.97L289.0,685.97L290.5,685.97L292.0,685.97L293.5,685.97L295.0,685.98L296.5,685.98L298.0,685.98L299.5,685.98L301.0,685.99L302.5,685.99L304.0,685.99L305.5,685.99L307.0,686.00L308.5,686.00L310.0,686.00L311.5,686.01L313.0,686.01L314.5,686.01L316.0,686.02L317.5,686.02L319.0,686.02L320.5,686.03L322.0,686.03L323.5,686.03L325.0,686.04L326.5,686.04L328.0,686.05L329.5,686.05L331.0,686.06L332.5,686.06L334.0,686.06L335.5,686.07L337.0,686.07L338.5,686.08L340.0,686.08L341.5,686.09L343.0,686.09L344.5,686.09L346.0,686.10L347.5,686.10L349.0,686.10L350.5,686.11L352.0,686.11L353.5,686.11L355.0,686.12L356.5,686.12L358.0,686.12L359.5,686.12L361.0,686.13L362.5,686.13L364.0,686.13L365.5,686.13L367.0,686.13L368.5,686.13L370.0,686.13L371.5,686.13L373.0,686.13L374.5,686.13L376.0,686.13L377.5,686.13L379.0,686.13L380.5,686.12L382.0,686.12L383.5,686.12L385.0,686.11L386.5,686.11L388.0,686.10L389.5,686.10L391.0,686.09L392.5,686.09L394.0,686.08L395.5,686.07L397.0,686.06L398.5,686.05L400.0,686.04L401.5,686.03L403.0,686.02L404.5,686.00L406.0,685.98L407.5,685.96L409.0,685.93L410.5,685.89L412.0,685.85L413.5,685.81L415.0,685.75L416.5,685.69L418.0,685.62L419.5,685.54L421.0,685.45L422.5,685.35L424.0,685.23L425.5,685.11L427.0,684.97L428.5,684.82L430.0,684.65L431.5,684.47L433.0,684.28L434.5,684.07L436.0,683.84L437.5,683.60L439.0,683.34L440.5,683.06L442.0,682.77L443.5,682.46L445.0,682.13L446.5,681.79L448.0,681.44L449.5,681.07L451.0,680.69L452.5,680.29L454.0,679.88L455.5,679.46L457.0,679.02L458.5,678.58L460.0,678.11L461.5,677.64L463.0,677.16L464.5,676.66L466.0,676.16L467.5,675.64L469.0,675.12L470.5,674.58L472.0,674.03L473.5,673.48L475.0,672.92L476.5,672.34L478.0,671.77L479.5,671.18L481.0,670.60L482.5,670.00L484.0,669.41L485.5,668.81L487.0,668.22L488.5,667.62L490.0,667.03L491.5,666.43L493.0,665.84L494.5,665.26L496.0,664.68L497.5,664.10L499.0,663.53L500.5,662.97L502.0,662.42L503.5,661.87L505.0,661.33L506.5,660.81L508.0,660.30L509.5,659.79L511.0,659.31L512.5,658.83L514.0,658.37L515.5,657.92L517.0,657.48L518.5,657.06L520.0,656.65L521.5,656.26L523.0,655.87L524.5,655.51L526.0,655.15L527.5,654.81L529.0,654.48L530.5,654.17L532.0,653.87L533.5,653.59L535.0,653.32L536.5,653.06L538.0,652.82L539.5,652.59L541.0,652.37L542.5,652.17L544.0,651.99L545.5,651.81L547.0,651.66L548.5,651.52L550.0,651.39L551.5,651.27L553.0,651.17L554.5,651.08L556.0,651.00L557.5,650.93L559.0,650.88L560.5,650.83L562.0,650.79L563.5,650.77L565.0,650.75L566.5,650.73L568.0,650.73L569.5,650.73L571.0,650.74L572.5,650.75L574.0,650.77L575.5,650.80L577.0,650.82L578.5,650.85L580.0,650.89L581.5,650.92L583.0,650.96L584.5,651.00L586.0,651.04L587.5,651.08L589.0,651.12L590.5,651.15L592.0,651.19L593.5,651.22L595.0,651.25L596.5,651.28L597.0,651.29" stroke="#238b23" stroke-dasharray="2.9 1.1"/>
<path d="M49.0,683.41L50.5,683.41L52.0,683.41L53.5,683.40L55.0,683.40L56.5,683.39L58.0,683.39L59.5,683.39L61.0,683.38L62.5,683.38L64.0,683.38L65.5,683.37L67.0,683.37L68.5,683.37L70.0,683.37L71.5,683.36L73.0,683.36L74.5,683.36L76.0,683.36L77.5,683.36L79.0,683.35L80.5,683.35L82.0,683.35L83.5,683.35L85.0,683.35L86.5,683.35L88.0,683.35L89.5,683.35L91.0,683.35L92.5,683.35L94.0,683.35L95.5,683.34L97.0,683.34L98.5,683.34L100.0,683.34L101.5,683.34L103.0,683.34L104.5,683.34L106.0,683.34L107.5,683.35L109.0,683.35L110.5,683.35L112.0,683.35L113.5,683.35L115.0,683.35L116.5,683.35L118.0,683.35L119.5,683.35L121.0,683.35L122.5,683.35L124.0,683.35L125.5,683.36L127.0,683.36L128.5,683.36L130.0,683.36L131.5,683.36L133.0,683.36L134.5,683.37L136.0,683.37L137.5,683.37L139.0,683.37L140.5,683.37L142.0,683.37L143.5,683.38L145.0,683.38L146.5,683.38L148.0,683.38L149.5,683.38L151.0,683.39L152.5,683.39L154.0,683.39L155.5,683.39L157.0,683.40L158.5,683.40L160.0,683.40L161.5,683.40L163.0,683.40L164.5,683.41L166.0,683.41L167.5,683.41L169.0,683.41L170.5,683.42L172.0,683.42L173.5,683.42L175.0,683.42L176.5,683.43L178.0,683.43L179.5,683.43L181.0,683.43L182.5,683.44L184.0,683.44L185.5,683.44L187.0,683.44L188.5,683.45L190.0,683.45L191.5,683.45L193.0,683.45L194.5,683.45L196.0,683.46L197.5,683.46L199.0,683.46L200.5,683.46L202.0,683.47L203.5,683.47L205.0,683.47L206.5,683.47L208.0,683.47L209.5,683.48L211.0,683.48L212.5,683.48L214.0,683.48L215.5,683.48L217.0,683.48L218.5,683.49L220.0,683.49L221.5,683.49L223.0,683.49L224.5,683.49L226.0,683.49L227.5,683.49L229.0,683.50L230.5,683.50L232.0,683.50L233.5,683.50L235.0,683.50L236.5,683.50L238.0,683.50L239.5,683.50L241.0,683.50L242.5,683.50L244.0,683.50L245.5,683.50L247.0,683.50L248.5,683.50L250.0,683.50L251.5,683.50L253.0,683.50L254.5,683.50L256.0,683.50L257.5,683.50L259.0,683.50L260.5,683.50L262.0,683.50L263.5,683.50L265.0,683.50L266.5,683.50L268.0,683.50L269.5,683.50L271.0,683.49L272.5,683.49L274.0,683.49L275.5,683.49L277.0,683.49L278.5,683.48L280.0,683.48L281.5,683.48L283.0,683.48L284.5,683.48L286.0,683.47L287.5,683.47L289.0,683.47L290.5,683.46L292.0,683.46L293.5,683.46L295.0,683.45L296.5,683.45L298.0,683.44L299.5,683.44L301.0,683.44L302.5,683.43L304.0,683.43L305.5,683.42L307.0,683.42L308.5,683.41L310.0,683.41L311.5,683.40L313.0,683.40L314.5,683.39L316.0,683.38L317.5,683.38L319.0,683.37L320.5,683.36L322.0,683.36L323.5,683.35L325.0,683.34L326.5,683.34L328.0,683.33L329.5,683.32L331.0,683.31L332.5,683.31L334.0,683.30L335.5,683.29L337.0,683.29L338.5,683.28L340.0,683.28L341.5,683.27L343.0,683.27L344.5,683.27L346.0,683.26L347.5,683.26L349.0,683.26L350.5,683.26L352.0,683.26L353.5,683.26L355.0,683.27L356.5,683.27L358.0,683.28L359.5,683.28L361.0,683.29L362.5,683.30L364.0,683.31L365.5,683.33L367.0,683.34L368.5,683.36L370.0,683.38L371.5,683.40L373.0,683.42L374.5,683.45L376.0,683.47L377.5,683.50L379.0,683.53L380.5,683.56L382.0,683.60L383.5,683.64L385.0,683.68L386.5,683.72L388.0,683.77L389.5,683.81L391.0,683.87L392.5,683.92L394.0,683.98L395.5,684.03L397.0,684.10L398.5,684.16L400.0,684.23L401.5,684.30L403.0,684.38L404.5,684.45L406.0,684.53L407.5,684.61L409.0,684.69L410.5,684.78L412.0,684.86L413.5,684.95L415.0,685.03L416.5,685.12L418.0,685.21L419.5,685.29L421.0,685.38L422.5,685.46L424.0,685.55L425.5,685.63L427.0,685.72L428.5,685.80L430.0,685.88L431.5,685.96L433.0,686.03L434.5,686.11L436.0,686.18L437.5,686.24L439.0,686.31L440.5,686.37L442.0,686.42L443.5,686.46L445.0,686.50L446.5,686.52L448.0,686.54L449.5,686.54L451.0,686.53L452.5,686.51L454.0,686.47L455.5,686.41L457.0,686.34L458.5,686.24L460.0,686.14L461.5,686.01L463.0,685.87L464.5,685.71L466.0,685.52L467.5,685.32L469.0,685.11L470.5,684.87L472.0,684.61L473.5,684.33L475.0,684.03L476.5,683.71L478.0,683.38L479.5,683.03L481.0,682.66L482.5,682.29L484.0,681.90L485.5,681.49L487.0,681.08L488.5,680.66L490.0,680.23L491.5,679.80L493.0,679.36L494.5,678.92L496.0,678.47L497.5,678.02L499.0,677.57L500.5,677.13L502.0,676.68L503.5,676.24L505.0,675.80L506.5,675.37L508.0,674.94L509.5,674.52L511.0,674.12L512.5,673.72L514.0,673.33L515.5,672.95L517.0,672.58L518.5,672.22L520.0,671.88L521.5,671.54L523.0,671.21L524.5,670.89L526.0,670.59L527.5,670.29L529.0,670.01L530.5,669.73L532.0,669.47L533.5,669.22L535.0,668.98L536.5,668.75L538.0,668.53L539.5,668.32L541.0,668.13L542.5,667.94L544.0,667.77L545.5,667.61L547.0,667.47L548.5,667.33L550.0,667.21L551.5,667.10L553.0,666.99L554.5,666.90L556.0,666.82L557.5,666.75L559.0,666.68L560.5,666.63L562.0,666.58L563.5,666.54L565.0,666.50L566.5,666.48L568.0,666.45L569.5,666.44L571.0,666.42L572.5,666.42L574.0,666.41L575.5,666.41L577.0,666.41L578.5,666.41L580.0,666.42L581.5,666.43L583.0,666.43L584.5,666.44L586.0,666.45L587.5,666.45L589.0,666.46L590.5,666.47L592.0,666.47L593.5,666.47L595.0,666.48L596.5,666.48L597.0,666.47" stroke="#ff2424" stroke-dasharray="2.9 1.1"/>
<path d="M49.0,686.15L50.5,686.14L52.0,686.14L53.5,686.13L55.0,686.12L56.5,686.12L58.0,686.11L59.5,686.11L61.0,686.10L62.5,686.10L64.0,686.10L65.5,686.09L67.0,686.09L68.5,686.09L70.0,686.08L71.5,686.08L73.0,686.07L74.5,686.06L76.0,686.06L77.5,686.05L79.0,686.04L80.5,686.03L82.0,686.02L83.5,686.01L85.0,685.99L86.5,685.97L88.0,685.96L89.5,685.94L91.0,685.91L92.5,685.89L94.0,685.86L95.5,685.83L97.0,685.80L98.5,685.76L100.0,685.73L101.5,685.69L103.0,685.64L104.5,685.59L106.0,685.54L107.5,685.49L109.0,685.43L110.5,685.37L112.0,685.30L113.5,685.23L115.0,685.16L116.5,685.08L118.0,685.00L119.5,684.91L121.0,684.82L122.5,684.73L124.0,684.62L125.5,684.52L127.0,684.41L128.5,684.29L130.0,684.17L131.5,684.04L133.0,683.91L134.5,683.77L136.0,683.62L137.5,683.47L139.0,683.31L140.5,683.15L142.0,682.98L143.5,682.80L145.0,682.62L146.5,682.43L148.0,682.24L149.5,682.03L151.0,681.82L152.5,681.61L154.0,681.38L155.5,681.15L157.0,680.91L158.5,680.67L160.0,680.41L161.5,680.15L163.0,679.88L164.5,679.61L166.0,679.33L167.5,679.04L169.0,678.74L170.5,678.43L172.0,678.11L173.5,677.79L175.0,677.46L176.5,677.12L178.0,676.77L179.5,676.42L181.0,676.05L182.5,675.68L184.0,675.30L185.5,674.91L187.0,674.51L188.5,674.10L190.0,673.68L191.5,673.26L193.0,672.82L194.5,672.38L196.0,671.92L197.5,671.46L199.0,670.99L200.5,670.50L202.0,670.01L203.5,669.51L205.0,669.00L206.5,668.48L208.0,667.96L209.5,667.42L211.0,666.88L212.5,666.33L214.0,665.77L215.5,665.20L217.0,664.62L218.5,664.04L220.0,663.44L221.5,662.84L223.0,662.24L224.5,661.62L226.0,661.00L227.5,660.37L229.0,659.74L230.5,659.09L232.0,658.44L233.5,657.79L235.0,657.13L236.5,656.46L238.0,655.78L239.5,655.10L241.0,654.41L242.5,653.72L244.0,653.02L245.5,652.31L247.0,651.60L248.5,650.89L250.0,650.17L251.5,649.44L253.0,648.71L254.5,647.97L256.0,647.23L257.5,646.48L259.0,645.72L260.5,644.96L262.0,644.18L263.5,643.38L265.0,642.57L266.5,641.74L268.0,640.89L269.5,640.01L271.0,639.11L272.5,638.19L274.0,637.24L275.5,636.25L277.0,635.24L278.5,634.19L280.0,633.10L281.5,631.97L283.0,630.81L284.5,629.60L286.0,628.35L287.5,627.07L289.0,625.75L290.5,624.39L292.0,623.01L293.5,621.60L295.0,620.16L296.5,618.70L298.0,617.23L299.5,615.74L301.0,614.23L302.5,612.71L304.0,611.19L305.5,609.66L307.0,608.13L308.5,606.60L310.0,605.08L311.5,603.56L313.0,602.04L314.5,600.54L316.0,599.05L317.5,597.58L319.0,596.12L320.5,594.67L322.0,593.23L323.5,591.82L325.0,590.42L326.5,589.04L328.0,587.67L329.5,586.33L331.0,585.00L332.5,583.70L334.0,582.42L335.5,581.16L337.0,579.92L338.5,578.71L340.0,577.53L341.5,576.37L343.0,575.24L344.5,574.13L346.0,573.05L347.5,572.01L349.0,570.99L350.5,570.00L352.0,569.05L353.5,568.13L355.0,567.24L356.5,566.38L358.0,565.56L359.5,564.78L361.0,564.03L362.5,563.33L364.0,562.66L365.5,562.02L367.0,561.43L368.5,560.88L370.0,560.38L371.5,559.91L373.0,559.48L374.5,559.10L376.0,558.75L377.5,558.45L379.0,558.17L380.5,557.94L382.0,557.73L383.5,557.56L385.0,557.42L386.5,557.31L388.0,557.23L389.5,557.17L391.0,557.14L392.5,557.14L394.0,557.16L395.5,557.20L397.0,557.26L398.5,557.34L400.0,557.44L401.5,557.56L403.0,557.69L404.5,557.83L406.0,557.99L407.5,558.16L409.0,558.34L410.5,558.53L412.0,558.73L413.5,558.94L415.0,559.15L416.5,559.36L418.0,559.58L419.5,559.80L421.0,560.02L422.5,560.23L424.0,560.45L425.5,560.66L427.0,560.87L428.5,561.07L430.0,561.26L431.5,561.45L433.0,561.63L434.5,561.81L436.0,561.97L437.5,562.14L439.0,562.29L440.5,562.45L442.0,562.59L443.5,562.73L445.0,562.87L446.5,563.00L448.0,563.12L449.5,563.24L451.0,563.36L452.5,563.47L454.0,563.57L455.5,563.67L457.0,563.77L458.5,563.86L460.0,563.95" stroke="#2424ff"/>
<path d="M49.0,686.25L50.5,686.25L52.0,686.24L53.5,686.23L55.0,686.22L56.5,686.22L58.0,686.22L59.5,686.21L61.0,686.21L62.5,686.21L64.0,686.20L65.5,686.20L67.0,686.20L68.5,686.20L70.0,686.20L71.5,686.19L73.0,686.19L74.5,686.19L76.0,686.18L77.5,686.18L79.0,686.17L80.5,686.17L82.0,686.16L83.5,686.15L85.0,686.14L86.5,686.13L88.0,686.12L89.5,686.11L91.0,686.09L92.5,686.08L94.0,686.06L95.5,686.04L97.0,686.01L98.5,685.99L100.0,685.96L101.5,685.93L103.0,685.90L104.5,685.87L106.0,685.83L107.5,685.79L109.0,685.75L110.5,685.70L112.0,685.65L113.5,685.60L115.0,685.54L116.5,685.48L118.0,685.42L119.5,685.35L121.0,685.28L122.5,685.21L124.0,685.13L125.5,685.05L127.0,684.96L128.5,684.87L130.0,684.78L131.5,684.68L133.0,684.57L134.5,684.46L136.0,684.35L137.5,684.23L139.0,684.10L140.5,683.97L142.0,683.84L143.5,683.70L145.0,683.55L146.5,683.40L148.0,683.25L149.5,683.08L151.0,682.92L152.5,682.75L154.0,682.57L155.5,682.39L157.0,682.20L158.5,682.00L160.0,681.81L161.5,681.60L163.0,681.39L164.5,681.18L166.0,680.96L167.5,680.73L169.0,680.50L170.5,680.26L172.0,680.02L173.5,679.77L175.0,679.52L176.5,679.26L178.0,679.00L179.5,678.73L181.0,678.45L182.5,678.17L184.0,677.89L185.5,677.60L187.0,677.30L188.5,677.00L190.0,676.69L191.5,676.38L193.0,676.06L194.5,675.73L196.0,675.40L197.5,675.06L199.0,674.72L200.5,674.38L202.0,674.02L203.5,673.66L205.0,673.30L206.5,672.93L208.0,672.55L209.5,672.17L211.0,671.79L212.5,671.39L214.0,670.99L215.5,670.59L217.0,670.18L218.5,669.77L220.0,669.34L221.5,668.92L223.0,668.48L224.5,668.04L226.0,667.60L227.5,667.15L229.0,666.69L230.5,666.23L232.0,665.76L233.5,665.29L235.0,664.81L236.5,664.33L238.0,663.83L239.5,663.34L241.0,662.83L242.5,662.33L244.0,661.81L245.5,661.29L247.0,660.76L248.5,660.23L250.0,659.69L251.5,659.15L253.0,658.60L254.5,658.04L256.0,657.48L257.5,656.91L259.0,656.33L260.5,655.75L262.0,655.15L263.5,654.55L265.0,653.94L266.5,653.31L268.0,652.68L269.5,652.03L271.0,651.37L272.5,650.69L274.0,650.00L275.5,649.30L277.0,648.57L278.5,647.84L280.0,647.08L281.5,646.31L283.0,645.51L284.5,644.70L286.0,643.87L287.5,643.02L289.0,642.15L290.5,641.26L292.0,640.36L293.5,639.44L295.0,638.51L296.5,637.56L298.0,636.59L299.5,635.61L301.0,634.62L302.5,633.62L304.0,632.60L305.5,631.57L307.0,630.53L308.5,629.49L310.0,628.43L311.5,627.36L313.0,626.29L314.5,625.21L316.0,624.12L317.5,623.03L319.0,621.93L320.5,620.83L322.0,619.73L323.5,618.63L325.0,617.53L326.5,616.43L328.0,615.34L329.5,614.25L331.0,613.16L332.5,612.08L334.0,611.01L335.5,609.95L337.0,608.89L338.5,607.85L340.0,606.82L341.5,605.80L343.0,604.80L344.5,603.82L346.0,602.85L347.5,601.89L349.0,600.96L350.5,600.05L352.0,599.15L353.5,598.28L355.0,597.44L356.5,596.62L358.0,595.82L359.5,595.05L361.0,594.31L362.5,593.60L364.0,592.92L365.5,592.27L367.0,591.65L368.5,591.07L370.0,590.52L371.5,590.01L373.0,589.53L374.5,589.08L376.0,588.67L377.5,588.29L379.0,587.94L380.5,587.62L382.0,587.33L383.5,587.07L385.0,586.83L386.5,586.63L388.0,586.45L389.5,586.29L391.0,586.16L392.5,586.05L394.0,585.97L395.5,585.91L397.0,585.87L398.5,585.84L400.0,585.84L401.5,585.86L403.0,585.89L404.5,585.94L406.0,586.01L407.5,586.09L409.0,586.19L410.5,586.30L412.0,586.42L413.5,586.55L415.0,586.70L416.5,586.85L418.0,587.02L419.5,587.19L421.0,587.37L422.5,587.56L424.0,587.75L425.5,587.95L427.0,588.15L428.5,588.36L430.0,588.56L431.5,588.77L433.0,588.98L434.5,589.19L436.0,589.40L437.5,589.61L439.0,589.82L440.5,590.02L442.0,590.22L443.5,590.41L445.0,590.60L446.5,590.78L448.0,590.95L449.5,591.11L451.0,591.27L452.5,591.41L454.0,591.54L455.5,591.67L457.0,591.77L458.5,591.87L459.5,591.93" stroke="#238b23"/>
<path d="M49.0,686.34L50.5,686.33L52.0,686.32L53.5,686.32L55.0,686.31L56.5,686.31L58.0,686.30L59.5,686.30L61.0,686.30L62.5,686.30L64.0,686.30L65.5,686.30L67.0,686.30L68.5,686.30L70.0,686.30L71.5,686.30L73.0,686.30L74.5,686.31L76.0,686.31L77.5,686.31L79.0,686.31L80.5,686.31L82.0,686.30L83.5,686.30L85.0,686.30L86.5,686.29L88.0,686.29L89.5,686.28L91.0,686.28L92.5,686.27L94.0,686.26L95.5,686.24L97.0,686.23L98.5,686.21L100.0,686.20L101.5,686.18L103.0,686.15L104.5,686.13L106.0,686.10L107.5,686.07L109.0,686.04L110.5,686.01L112.0,685.97L113.5,685.93L115.0,685.89L116.5,685.84L118.0,685.80L119.5,685.74L121.0,685.69L122.5,685.63L124.0,685.57L125.5,685.50L127.0,685.43L128.5,685.35L130.0,685.28L131.5,685.19L133.0,685.11L134.5,685.02L136.0,684.92L137.5,684.82L139.0,684.72L140.5,684.61L142.0,684.49L143.5,684.37L145.0,684.25L146.5,684.12L148.0,683.99L149.5,683.86L151.0,683.72L152.5,683.58L154.0,683.43L155.5,683.28L157.0,683.13L158.5,682.98L160.0,682.82L161.5,682.66L163.0,682.50L164.5,682.33L166.0,682.17L167.5,682.00L169.0,681.83L170.5,681.66L172.0,681.48L173.5,681.31L175.0,681.13L176.5,680.96L178.0,680.78L179.5,680.60L181.0,680.43L182.5,680.25L184.0,680.07L185.5,679.89L187.0,679.72L188.5,679.54L190.0,679.36L191.5,679.19L193.0,679.01L194.5,678.84L196.0,678.67L197.5,678.50L199.0,678.33L200.5,678.16L202.0,677.99L203.5,677.83L205.0,677.66L206.5,677.50L208.0,677.34L209.5,677.17L211.0,677.01L212.5,676.85L214.0,676.69L215.5,676.53L217.0,676.37L218.5,676.21L220.0,676.05L221.5,675.89L223.0,675.73L224.5,675.57L226.0,675.40L227.5,675.24L229.0,675.08L230.5,674.91L232.0,674.75L233.5,674.58L235.0,674.41L236.5,674.24L238.0,674.07L239.5,673.90L241.0,673.72L242.5,673.55L244.0,673.37L245.5,673.19L247.0,673.00L248.5,672.82L250.0,672.63L251.5,672.44L253.0,672.25L254.5,672.05L256.0,671.85L257.5,671.65L259.0,671.44L260.5,671.23L262.0,671.02L263.5,670.81L265.0,670.59L266.5,670.37L268.0,670.15L269.5,669.93L271.0,669.70L272.5,669.47L274.0,669.24L275.5,669.00L277.0,668.77L278.5,668.53L280.0,668.29L281.5,668.04L283.0,667.80L284.5,667.55L286.0,667.30L287.5,667.04L289.0,666.79L290.5,666.53L292.0,666.27L293.5,666.01L295.0,665.74L296.5,665.48L298.0,665.21L299.5,664.94L301.0,664.67L302.5,664.40L304.0,664.12L305.5,663.84L307.0,663.57L308.5,663.29L310.0,663.00L311.5,662.72L313.0,662.43L314.5,662.15L316.0,661.86L317.5,661.57L319.0,661.29L320.5,661.00L322.0,660.72L323.5,660.43L325.0,660.15L326.5,659.88L328.0,659.60L329.5,659.33L331.0,659.06L332.5,658.80L334.0,658.55L335.5,658.30L337.0,658.05L338.5,657.82L340.0,657.59L341.5,657.37L343.0,657.15L344.5,656.95L346.0,656.75L347.5,656.57L349.0,656.40L350.5,656.23L352.0,656.08L353.5,655.94L355.0,655.81L356.5,655.70L358.0,655.60L359.5,655.51L361.0,655.44L362.5,655.38L364.0,655.34L365.5,655.32L367.0,655.31L368.5,655.32L370.0,655.34L371.5,655.38L373.0,655.44L374.5,655.52L376.0,655.62L377.5,655.72L379.0,655.85L380.5,655.99L382.0,656.14L383.5,656.30L385.0,656.48L386.5,656.67L388.0,656.87L389.5,657.09L391.0,657.31L392.5,657.55L394.0,657.79L395.5,658.04L397.0,658.30L398.5,658.57L400.0,658.85L401.5,659.13L403.0,659.42L404.5,659.71L406.0,660.01L407.5,660.32L409.0,660.63L410.5,660.94L412.0,661.25L413.5,661.57L415.0,661.89L416.5,662.21L418.0,662.53L419.5,662.85L421.0,663.17L422.5,663.49L424.0,663.81L425.5,664.13L427.0,664.44L428.5,664.75L430.0,665.06L431.5,665.37L433.0,665.66L434.5,665.96L436.0,666.25L437.5,666.53L439.0,666.81L440.5,667.08L442.0,667.35L443.5,667.60L445.0,667.85L446.5,668.10L448.0,668.33L449.5,668.55L451.0,668.77L452.5,668.97L454.0,669.17L455.5,669.35L457.0,669.53L458.5,669.69L459.5,669.79" stroke="#ff2424"/>
</g>
<path d="M49.0,686.70h8.0 M49.0,680.63h2.2 M49.0,674.56h2.2 M49.0,668.49h2.2 M49.0,662.42h2.2 M49.0,656.35h8.0 M49.0,650.28h2.2 M49.0,644.21h2.2 M49.0,638.14h2.2 M49.0,632.07h2.2 M49.0,626.00h8.0 M49.0,619.93h2.2 M49.0,613.86h2.2 M49.0,607.79h2.2 M49.0,601.72h2.2 M49.0,595.65h8.0 M49.0,589.58h2.2 M49.0,583.51h2.2 M49.0,577.44h2.2 M49.0,571.37h2.2 M49.0,565.30h8.0 M49.0,559.23h2.2 M49.0,553.16h2.2 M49.0,547.09h2.2 M49.0,541.02h2.2 M49.0,534.95h8.0 M49.0,528.88h2.2 M49.0,522.81h2.2 M49.0,516.74h2.2 M49.0,510.67h2.2 M49.0,504.60h8.0 M62.75,686.7v-3.4 M70.79,686.7v-3.4 M76.49,686.7v-3.4 M80.92,686.7v-3.4 M84.54,686.7v-3.4 M87.59,686.7v-3.4 M90.24,686.7v-3.4 M92.58,686.7v-3.4 M94.67,686.7v-8.0 M108.41,686.7v-3.4 M116.46,686.7v-3.4 M122.16,686.7v-3.4 M126.59,686.7v-3.4 M130.20,686.7v-3.4 M133.26,686.7v-3.4 M135.91,686.7v-3.4 M138.24,686.7v-3.4 M140.33,686.7v-8.0 M154.08,686.7v-3.4 M162.12,686.7v-3.4 M167.83,686.7v-3.4 M172.25,686.7v-3.4 M175.87,686.7v-3.4 M178.93,686.7v-3.4 M181.58,686.7v-3.4 M183.91,686.7v-3.4 M186.00,686.7v-8.0 M199.75,686.7v-3.4 M207.79,686.7v-3.4 M213.50,686.7v-3.4 M217.92,686.7v-3.4 M221.54,686.7v-3.4 M224.59,686.7v-3.4 M227.24,686.7v-3.4 M229.58,686.7v-3.4 M231.67,686.7v-8.0 M245.42,686.7v-3.4 M253.46,686.7v-3.4 M259.16,686.7v-3.4 M263.59,686.7v-3.4 M267.20,686.7v-3.4 M270.26,686.7v-3.4 M272.91,686.7v-3.4 M275.25,686.7v-3.4 M277.34,686.7v-8.0 M291.08,686.7v-3.4 M299.12,686.7v-3.4 M304.83,686.7v-3.4 M309.25,686.7v-3.4 M312.87,686.7v-3.4 M315.93,686.7v-3.4 M318.58,686.7v-3.4 M320.91,686.7v-3.4 M323.00,686.7v-8.0 M336.75,686.7v-3.4 M344.79,686.7v-3.4 M350.50,686.7v-3.4 M354.92,686.7v-3.4 M358.54,686.7v-3.4 M361.60,686.7v-3.4 M364.24,686.7v-3.4 M366.58,686.7v-3.4 M368.67,686.7v-8.0 M382.42,686.7v-3.4 M390.46,686.7v-3.4 M396.16,686.7v-3.4 M400.59,686.7v-3.4 M404.20,686.7v-3.4 M407.26,686.7v-3.4 M409.91,686.7v-3.4 M412.25,686.7v-3.4 M414.34,686.7v-8.0 M428.08,686.7v-3.4 M436.12,686.7v-3.4 M441.83,686.7v-3.4 M446.26,686.7v-3.4 M449.87,686.7v-3.4 M452.93,686.7v-3.4 M455.58,686.7v-3.4 M457.91,686.7v-3.4 M460.00,686.7v-8.0 M473.75,686.7v-3.4 M481.79,686.7v-3.4 M487.50,686.7v-3.4 M491.92,686.7v-3.4 M495.54,686.7v-3.4 M498.60,686.7v-3.4 M501.24,686.7v-3.4 M503.58,686.7v-3.4 M505.67,686.7v-8.0 M519.42,686.7v-3.4 M527.46,686.7v-3.4 M533.16,686.7v-3.4 M537.59,686.7v-3.4 M541.21,686.7v-3.4 M544.26,686.7v-3.4 M546.91,686.7v-3.4 M549.25,686.7v-3.4 M551.34,686.7v-8.0 M565.08,686.7v-3.4 M573.13,686.7v-3.4 M578.83,686.7v-3.4 M583.26,686.7v-3.4 M586.87,686.7v-3.4 M589.93,686.7v-3.4 M592.58,686.7v-3.4 M594.91,686.7v-3.4" stroke="#1a1a1a" stroke-width="1.1" fill="none"/>
<path d="M49.0,674.9H597.0" stroke="#5a5a5a" stroke-width="1.2" stroke-dasharray="3.1 1.2 0.9 1.4"/>
<rect x="49.0" y="504.60" width="548.0" height="182.10" fill="none" stroke="#2e2e2e" stroke-width="1.6"/>
<text x="47.6" y="692.0" font-size="17.5" text-anchor="end" textLength="9.1" lengthAdjust="spacingAndGlyphs">0</text>
<text x="47.6" y="661.6" font-size="17.5" text-anchor="end" textLength="9.1" lengthAdjust="spacingAndGlyphs">5</text>
<text x="47.6" y="631.3" font-size="17.5" text-anchor="end" textLength="18.2" lengthAdjust="spacingAndGlyphs">10</text>
<text x="47.6" y="601.0" font-size="17.5" text-anchor="end" textLength="18.2" lengthAdjust="spacingAndGlyphs">15</text>
<text x="47.6" y="570.6" font-size="17.5" text-anchor="end" textLength="18.2" lengthAdjust="spacingAndGlyphs">20</text>
<text x="47.6" y="540.2" font-size="17.5" text-anchor="end" textLength="18.2" lengthAdjust="spacingAndGlyphs">25</text>
<text x="47.6" y="509.9" font-size="17.5" text-anchor="end" textLength="18.2" lengthAdjust="spacingAndGlyphs">30</text>
<text x="94.3" y="703.1" font-size="17.5" text-anchor="middle">10<tspan font-size="12.5" dy="-6.1">−</tspan><tspan font-size="12" dx="0.5">34</tspan></text>
<text x="185.6" y="703.1" font-size="17.5" text-anchor="middle">10<tspan font-size="12.5" dy="-6.1">−</tspan><tspan font-size="12" dx="0.5">32</tspan></text>
<text x="276.9" y="703.1" font-size="17.5" text-anchor="middle">10<tspan font-size="12.5" dy="-6.1">−</tspan><tspan font-size="12" dx="0.5">30</tspan></text>
<text x="368.3" y="703.1" font-size="17.5" text-anchor="middle">10<tspan font-size="12.5" dy="-6.1">−</tspan><tspan font-size="12" dx="0.5">28</tspan></text>
<text x="459.6" y="703.1" font-size="17.5" text-anchor="middle">10<tspan font-size="12.5" dy="-6.1">−</tspan><tspan font-size="12" dx="0.5">26</tspan></text>
<text x="550.9" y="703.1" font-size="17.5" text-anchor="middle">10<tspan font-size="12.5" dy="-6.1">−</tspan><tspan font-size="12" dx="0.5">24</tspan></text>
<g transform="translate(292.60,724.40) scale(1.000)" fill="none" stroke="#111" stroke-linecap="round"><path d="M0.25,-5.4 C0.9,-7.0 2.0,-7.7 3.0,-7.6 C4.5,-7.4 5.1,-5.4 5.3,-1.9" stroke-width="1.15"/><path d="M9.0,-7.5 C7.4,-4.8 5.6,-1.8 4.6,0.0 C3.8,1.4 3.2,2.5 2.9,3.3" stroke-width="1.55"/></g>
<text x="301.8" y="727.3" font-size="12.5">0</text>
<text x="312.0" y="724.4" font-size="16" textLength="40.9" lengthAdjust="spacingAndGlyphs">(GeV)</text>
<path d="M8.2,603.4 L24.8,608.2" stroke="#111" stroke-width="1.0" fill="none"/><path d="M25.4,608.3 L16.7,612.5" stroke="#111" stroke-width="1.9" fill="none" stroke-linecap="round"/><path d="M16.7,612.5 L17.6,614.9" stroke="#111" stroke-width="1.0" fill="none"/><path d="M13.1,592.5 L2.7,596.9 L13.1,600.9 Z" stroke="#111" stroke-width="1.0" fill="none" stroke-linejoin="miter"/><path d="M2.9,596.8 L13.1,592.6 L13.1,600.9" stroke="#111" stroke-width="1.6" fill="none"/><path d="M6.4,582.0 L17.6,593.1" stroke="#111" stroke-width="0.9" fill="none"/><path d="M6.3,587.9 L6.5,589.8 C9.2,588.8 12.2,587.7 14.8,587.0 C16.4,586.5 16.9,585.6 15.7,584.0" stroke="#111" stroke-width="1.6" fill="none"/><g transform="translate(13.3,614.6) rotate(-90)"><text x="33.4" y="-5.3" font-size="11.5">2</text></g>
<path d="M607.3,576.5H623.4" stroke="#2424ff" stroke-width="1.3"/>
<path d="M607.3,581.3H623.4" stroke="#2424ff" stroke-width="1.2" stroke-dasharray="2.4 1.3"/>
<g transform="translate(625.30,578.60) scale(1.000)" fill="none" stroke="#111" stroke-linecap="round"><path d="M0.25,-5.4 C0.9,-7.0 2.0,-7.7 3.0,-7.6 C4.5,-7.4 5.1,-5.4 5.3,-1.9" stroke-width="1.15"/><path d="M9.0,-7.5 C7.4,-4.8 5.6,-1.8 4.6,0.0 C3.8,1.4 3.2,2.5 2.9,3.3" stroke-width="1.55"/></g>
<text x="634.1" y="581.4" font-size="11.5">32</text>
<path d="M647.3,572.40H656.2M647.3,576.00H656.2" stroke="#111" stroke-width="1.15"/>
<g transform="translate(657.90,578.60) scale(1.000)" fill="none" stroke="#111" stroke-linecap="round"><path d="M0.25,-5.4 C0.9,-7.0 2.0,-7.7 3.0,-7.6 C4.5,-7.4 5.1,-5.4 5.3,-1.9" stroke-width="1.15"/><path d="M9.0,-7.5 C7.4,-4.8 5.6,-1.8 4.6,0.0 C3.8,1.4 3.2,2.5 2.9,3.3" stroke-width="1.55"/></g>
<text x="666.8" y="581.4" font-size="11.5">21</text>
<path d="M607.3,604.1H623.4" stroke="#238b23" stroke-width="1.3"/>
<path d="M607.3,608.9H623.4" stroke="#238b23" stroke-width="1.2" stroke-dasharray="2.4 1.3"/>
<g transform="translate(625.30,606.20) scale(1.000)" fill="none" stroke="#111" stroke-linecap="round"><path d="M0.25,-5.4 C0.9,-7.0 2.0,-7.7 3.0,-7.6 C4.5,-7.4 5.1,-5.4 5.3,-1.9" stroke-width="1.15"/><path d="M9.0,-7.5 C7.4,-4.8 5.6,-1.8 4.6,0.0 C3.8,1.4 3.2,2.5 2.9,3.3" stroke-width="1.55"/></g>
<text x="634.1" y="609.0" font-size="11.5">31</text>
<path d="M647.3,600.00H656.2M647.3,603.60H656.2" stroke="#111" stroke-width="1.15"/>
<g transform="translate(657.90,606.20) scale(1.000)" fill="none" stroke="#111" stroke-linecap="round"><path d="M0.25,-5.4 C0.9,-7.0 2.0,-7.7 3.0,-7.6 C4.5,-7.4 5.1,-5.4 5.3,-1.9" stroke-width="1.15"/><path d="M9.0,-7.5 C7.4,-4.8 5.6,-1.8 4.6,0.0 C3.8,1.4 3.2,2.5 2.9,3.3" stroke-width="1.55"/></g>
<text x="666.8" y="609.0" font-size="11.5">21</text>
<path d="M607.3,631.9H623.4" stroke="#ff2424" stroke-width="1.3"/>
<path d="M607.3,636.7H623.4" stroke="#ff2424" stroke-width="1.2" stroke-dasharray="2.4 1.3"/>
<g transform="translate(625.30,634.00) scale(1.000)" fill="none" stroke="#111" stroke-linecap="round"><path d="M0.25,-5.4 C0.9,-7.0 2.0,-7.7 3.0,-7.6 C4.5,-7.4 5.1,-5.4 5.3,-1.9" stroke-width="1.15"/><path d="M9.0,-7.5 C7.4,-4.8 5.6,-1.8 4.6,0.0 C3.8,1.4 3.2,2.5 2.9,3.3" stroke-width="1.55"/></g>
<text x="634.1" y="636.8" font-size="11.5">31</text>
<path d="M647.3,627.80H656.2M647.3,631.40H656.2" stroke="#111" stroke-width="1.15"/>
<g transform="translate(657.90,634.00) scale(1.000)" fill="none" stroke="#111" stroke-linecap="round"><path d="M0.25,-5.4 C0.9,-7.0 2.0,-7.7 3.0,-7.6 C4.5,-7.4 5.1,-5.4 5.3,-1.9" stroke-width="1.15"/><path d="M9.0,-7.5 C7.4,-4.8 5.6,-1.8 4.6,0.0 C3.8,1.4 3.2,2.5 2.9,3.3" stroke-width="1.55"/></g>
<text x="666.8" y="636.8" font-size="11.5">32</text>
<path d="M607.3,658.8H626.7" stroke="#000" stroke-width="1.3" stroke-dasharray="2.4 0.8 0.9 0.8"/>
<text x="630.5" y="661.8" font-size="16.5">95% CL</text>
<g transform="translate(104.00,29.30) scale(1.000)" fill="none" stroke="#111" stroke-linecap="round"><path d="M0.25,-5.4 C0.9,-7.0 2.0,-7.7 3.0,-7.6 C4.5,-7.4 5.1,-5.4 5.3,-1.9" stroke-width="1.15"/><path d="M9.0,-7.5 C7.4,-4.8 5.6,-1.8 4.6,0.0 C3.8,1.4 3.2,2.5 2.9,3.3" stroke-width="1.55"/></g><text x="113.4" y="32.0" font-size="11.5">ij</text><path d="M120.5,23.30H129.2M120.5,26.40H129.2" stroke="#111" stroke-width="1.15"/><g transform="translate(129.70,29.30) scale(1.000)" fill="none" stroke="#111" stroke-linecap="round"><path d="M0.25,-5.4 C0.9,-7.0 2.0,-7.7 3.0,-7.6 C4.5,-7.4 5.1,-5.4 5.3,-1.9" stroke-width="1.15"/><path d="M9.0,-7.5 C7.4,-4.8 5.6,-1.8 4.6,0.0 C3.8,1.4 3.2,2.5 2.9,3.3" stroke-width="1.55"/></g><text x="139.4" y="32.0" font-size="11.5">0</text>
<g transform="translate(120.60,278.20) scale(1.000)" fill="none" stroke="#111" stroke-linecap="round"><path d="M0.25,-5.4 C0.9,-7.0 2.0,-7.7 3.0,-7.6 C4.5,-7.4 5.1,-5.4 5.3,-1.9" stroke-width="1.15"/><path d="M9.0,-7.5 C7.4,-4.8 5.6,-1.8 4.6,0.0 C3.8,1.4 3.2,2.5 2.9,3.3" stroke-width="1.55"/></g><text x="130.0" y="280.9" font-size="11.5">ij</text><path d="M137.1,272.20H145.8M137.1,275.30H145.8" stroke="#111" stroke-width="1.15"/><g transform="translate(146.30,278.20) scale(1.000)" fill="none" stroke="#111" stroke-linecap="round"><path d="M0.25,-5.4 C0.9,-7.0 2.0,-7.7 3.0,-7.6 C4.5,-7.4 5.1,-5.4 5.3,-1.9" stroke-width="1.15"/><path d="M9.0,-7.5 C7.4,-4.8 5.6,-1.8 4.6,0.0 C3.8,1.4 3.2,2.5 2.9,3.3" stroke-width="1.55"/></g><text x="156.0" y="280.9" font-size="11.5">0</text><text x="163.1" y="278.2" font-size="16" textLength="55.3" lengthAdjust="spacingAndGlyphs">(E/GeV)</text>
<g transform="translate(107.70,526.90) scale(1.000)" fill="none" stroke="#111" stroke-linecap="round"><path d="M0.25,-5.4 C0.9,-7.0 2.0,-7.7 3.0,-7.6 C4.5,-7.4 5.1,-5.4 5.3,-1.9" stroke-width="1.15"/><path d="M9.0,-7.5 C7.4,-4.8 5.6,-1.8 4.6,0.0 C3.8,1.4 3.2,2.5 2.9,3.3" stroke-width="1.55"/></g><text x="117.1" y="529.6" font-size="11.5">ij</text><path d="M124.2,520.90H132.9M124.2,524.00H132.9" stroke="#111" stroke-width="1.15"/><g transform="translate(133.40,526.90) scale(1.000)" fill="none" stroke="#111" stroke-linecap="round"><path d="M0.25,-5.4 C0.9,-7.0 2.0,-7.7 3.0,-7.6 C4.5,-7.4 5.1,-5.4 5.3,-1.9" stroke-width="1.15"/><path d="M9.0,-7.5 C7.4,-4.8 5.6,-1.8 4.6,0.0 C3.8,1.4 3.2,2.5 2.9,3.3" stroke-width="1.55"/></g><text x="143.1" y="529.6" font-size="11.5">0</text><text x="150.2" y="526.9" font-size="16" textLength="55.3" lengthAdjust="spacingAndGlyphs">(E/GeV)</text><text x="205.1" y="521.7" font-size="9.5" textLength="7.0" lengthAdjust="spacingAndGlyphs">2</text>
<text x="421.4" y="24.3" font-size="12" class="gr" textLength="58.4" lengthAdjust="spacingAndGlyphs">SK(90% CL)</text>
<text x="525.7" y="112" font-size="12" class="gn" textLength="53.4" lengthAdjust="spacingAndGlyphs">KamLAND</text>
<text x="521.4" y="127.6" font-size="12" class="gn">(</text>
<g transform="translate(525.50,127.20) scale(0.720)" fill="none" stroke="#0fab0f" stroke-linecap="round"><path d="M0.25,-5.4 C0.9,-7.0 2.0,-7.7 3.0,-7.6 C4.5,-7.4 5.1,-5.4 5.3,-1.9" stroke-width="1.38"/><path d="M9.0,-7.5 C7.4,-4.8 5.6,-1.8 4.6,0.0 C3.8,1.4 3.2,2.5 2.9,3.3" stroke-width="1.86"/></g>
<text x="531.0" y="129.6" font-size="9" class="gn">21</text>
<text x="538.3" y="127.6" font-size="12" class="gn" textLength="45.8" lengthAdjust="spacingAndGlyphs">,95% CL)</text>
<text x="486.2" y="526.5" font-size="12" class="gr" textLength="60.8" lengthAdjust="spacingAndGlyphs">SK (90% CL)</text>
</svg></body></html>
